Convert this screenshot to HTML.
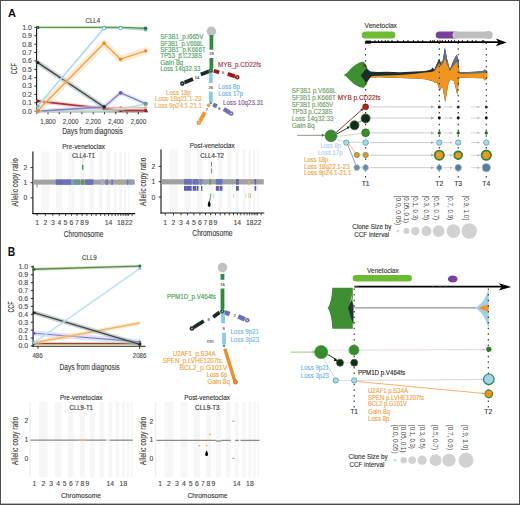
<!DOCTYPE html>
<html><head><meta charset="utf-8"><style>
html,body{margin:0;padding:0;background:#fff;}
svg{display:block;font-family:"Liberation Sans", sans-serif;}
</style></head><body>
<svg width="520" height="505" viewBox="0 0 520 505">
<rect width="520" height="505" fill="#fff"/>
<text x="8.0" y="16.6" font-size="11.4" fill="#111" text-anchor="start" font-weight="bold" textLength="8.0" lengthAdjust="spacingAndGlyphs">A</text>
<line x1="36.6" y1="26.5" x2="36.6" y2="112.2" stroke="#111" stroke-width="1.1"/>
<line x1="36.1" y1="111.8" x2="148.0" y2="111.8" stroke="#111" stroke-width="1.1"/>
<line x1="34.3" y1="111.2" x2="36.6" y2="111.2" stroke="#111" stroke-width="0.9"/>
<text x="31.8" y="113.6" font-size="6.6" fill="#4a4a4a" text-anchor="end" font-weight="normal" stroke="#4a4a4a" stroke-width="0.12" textLength="9.6" lengthAdjust="spacingAndGlyphs">0.0</text>
<line x1="34.3" y1="102.8" x2="36.6" y2="102.8" stroke="#111" stroke-width="0.9"/>
<text x="31.8" y="105.2" font-size="6.6" fill="#4a4a4a" text-anchor="end" font-weight="normal" stroke="#4a4a4a" stroke-width="0.12" textLength="9.6" lengthAdjust="spacingAndGlyphs">0.1</text>
<line x1="34.3" y1="94.4" x2="36.6" y2="94.4" stroke="#111" stroke-width="0.9"/>
<text x="31.8" y="96.8" font-size="6.6" fill="#4a4a4a" text-anchor="end" font-weight="normal" stroke="#4a4a4a" stroke-width="0.12" textLength="9.6" lengthAdjust="spacingAndGlyphs">0.2</text>
<line x1="34.3" y1="86.1" x2="36.6" y2="86.1" stroke="#111" stroke-width="0.9"/>
<text x="31.8" y="88.4" font-size="6.6" fill="#4a4a4a" text-anchor="end" font-weight="normal" stroke="#4a4a4a" stroke-width="0.12" textLength="9.6" lengthAdjust="spacingAndGlyphs">0.3</text>
<line x1="34.3" y1="77.7" x2="36.6" y2="77.7" stroke="#111" stroke-width="0.9"/>
<text x="31.8" y="80.1" font-size="6.6" fill="#4a4a4a" text-anchor="end" font-weight="normal" stroke="#4a4a4a" stroke-width="0.12" textLength="9.6" lengthAdjust="spacingAndGlyphs">0.4</text>
<line x1="34.3" y1="69.3" x2="36.6" y2="69.3" stroke="#111" stroke-width="0.9"/>
<text x="31.8" y="71.7" font-size="6.6" fill="#4a4a4a" text-anchor="end" font-weight="normal" stroke="#4a4a4a" stroke-width="0.12" textLength="9.6" lengthAdjust="spacingAndGlyphs">0.5</text>
<line x1="34.3" y1="60.9" x2="36.6" y2="60.9" stroke="#111" stroke-width="0.9"/>
<text x="31.8" y="63.3" font-size="6.6" fill="#4a4a4a" text-anchor="end" font-weight="normal" stroke="#4a4a4a" stroke-width="0.12" textLength="9.6" lengthAdjust="spacingAndGlyphs">0.6</text>
<line x1="34.3" y1="52.5" x2="36.6" y2="52.5" stroke="#111" stroke-width="0.9"/>
<text x="31.8" y="54.9" font-size="6.6" fill="#4a4a4a" text-anchor="end" font-weight="normal" stroke="#4a4a4a" stroke-width="0.12" textLength="9.6" lengthAdjust="spacingAndGlyphs">0.7</text>
<line x1="34.3" y1="44.2" x2="36.6" y2="44.2" stroke="#111" stroke-width="0.9"/>
<text x="31.8" y="46.5" font-size="6.6" fill="#4a4a4a" text-anchor="end" font-weight="normal" stroke="#4a4a4a" stroke-width="0.12" textLength="9.6" lengthAdjust="spacingAndGlyphs">0.8</text>
<line x1="34.3" y1="35.8" x2="36.6" y2="35.8" stroke="#111" stroke-width="0.9"/>
<text x="31.8" y="38.2" font-size="6.6" fill="#4a4a4a" text-anchor="end" font-weight="normal" stroke="#4a4a4a" stroke-width="0.12" textLength="9.6" lengthAdjust="spacingAndGlyphs">0.9</text>
<line x1="34.3" y1="27.4" x2="36.6" y2="27.4" stroke="#111" stroke-width="0.9"/>
<text x="31.8" y="29.8" font-size="6.6" fill="#4a4a4a" text-anchor="end" font-weight="normal" stroke="#4a4a4a" stroke-width="0.12" textLength="9.6" lengthAdjust="spacingAndGlyphs">1.0</text>
<line x1="36.7" y1="111.8" x2="36.7" y2="114.2" stroke="#111" stroke-width="0.9"/>
<line x1="48.0" y1="111.8" x2="48.0" y2="114.2" stroke="#111" stroke-width="0.9"/>
<line x1="59.3" y1="111.8" x2="59.3" y2="114.2" stroke="#111" stroke-width="0.9"/>
<line x1="70.6" y1="111.8" x2="70.6" y2="114.2" stroke="#111" stroke-width="0.9"/>
<line x1="81.9" y1="111.8" x2="81.9" y2="114.2" stroke="#111" stroke-width="0.9"/>
<line x1="93.2" y1="111.8" x2="93.2" y2="114.2" stroke="#111" stroke-width="0.9"/>
<line x1="104.5" y1="111.8" x2="104.5" y2="114.2" stroke="#111" stroke-width="0.9"/>
<line x1="115.8" y1="111.8" x2="115.8" y2="114.2" stroke="#111" stroke-width="0.9"/>
<line x1="127.1" y1="111.8" x2="127.1" y2="114.2" stroke="#111" stroke-width="0.9"/>
<line x1="138.4" y1="111.8" x2="138.4" y2="114.2" stroke="#111" stroke-width="0.9"/>
<text x="48.0" y="124.0" font-size="6.8" fill="#4a4a4a" text-anchor="middle" font-weight="normal" stroke="#4a4a4a" stroke-width="0.12" textLength="15.5" lengthAdjust="spacingAndGlyphs">1,800</text>
<text x="70.6" y="124.0" font-size="6.8" fill="#4a4a4a" text-anchor="middle" font-weight="normal" stroke="#4a4a4a" stroke-width="0.12" textLength="15.5" lengthAdjust="spacingAndGlyphs">2,000</text>
<text x="93.2" y="124.0" font-size="6.8" fill="#4a4a4a" text-anchor="middle" font-weight="normal" stroke="#4a4a4a" stroke-width="0.12" textLength="15.5" lengthAdjust="spacingAndGlyphs">2,200</text>
<text x="115.8" y="124.0" font-size="6.8" fill="#4a4a4a" text-anchor="middle" font-weight="normal" stroke="#4a4a4a" stroke-width="0.12" textLength="15.5" lengthAdjust="spacingAndGlyphs">2,400</text>
<text x="138.4" y="124.0" font-size="6.8" fill="#4a4a4a" text-anchor="middle" font-weight="normal" stroke="#4a4a4a" stroke-width="0.12" textLength="15.5" lengthAdjust="spacingAndGlyphs">2,600</text>
<text x="14.0" y="71.7" font-size="8.4" fill="#3a3a3a" text-anchor="middle" font-weight="normal" stroke="#3a3a3a" stroke-width="0.12" textLength="11.2" lengthAdjust="spacingAndGlyphs" transform="rotate(-90 14.0 68.7)">CCF</text>
<text x="62.3" y="134.0" font-size="8.8" fill="#3a3a3a" text-anchor="start" font-weight="normal" stroke="#3a3a3a" stroke-width="0.12" textLength="60.5" lengthAdjust="spacingAndGlyphs">Days from diagnosis</text>
<text x="85.6" y="22.9" font-size="6.3" fill="#3a3a3a" text-anchor="start" font-weight="normal" stroke="#3a3a3a" stroke-width="0.12" textLength="14.4" lengthAdjust="spacingAndGlyphs">CLL4</text>
<path d="M37.8,110.8 L104.1,110.8 L120.6,110.4 L145.6,110.4" fill="none" stroke="#e6efd0" stroke-width="2.5" stroke-linejoin="round" stroke-linecap="round" opacity="0.45"/>
<path d="M37.8,110.8 L104.1,110.8 L120.6,110.4 L145.6,110.4" fill="none" stroke="#c9d9a0" stroke-width="0.8" stroke-linejoin="round"/>
<circle cx="37.8" cy="110.8" r="0.01" fill="#c9d9a0" stroke="none" stroke-width="0"/>
<circle cx="104.1" cy="110.8" r="0.01" fill="#c9d9a0" stroke="none" stroke-width="0"/>
<circle cx="120.6" cy="110.4" r="0.01" fill="#c9d9a0" stroke="none" stroke-width="0"/>
<circle cx="145.6" cy="110.4" r="0.01" fill="#c9d9a0" stroke="none" stroke-width="0"/>
<path d="M37.8,101.1 L104.1,108.7 L120.6,110.4 L145.6,110.4" fill="none" stroke="#e0a0a0" stroke-width="4.0" stroke-linejoin="round" stroke-linecap="round" opacity="0.45"/>
<path d="M37.8,101.1 L104.1,108.7 L120.6,110.4 L145.6,110.4" fill="none" stroke="#a83838" stroke-width="1.8" stroke-linejoin="round"/>
<circle cx="37.8" cy="101.1" r="1.60" fill="#8a1f15" stroke="none" stroke-width="0"/>
<circle cx="104.1" cy="108.7" r="1.60" fill="#8a1f15" stroke="none" stroke-width="0"/>
<circle cx="120.6" cy="110.4" r="1.60" fill="#8a1f15" stroke="none" stroke-width="0"/>
<circle cx="145.6" cy="110.4" r="1.60" fill="#8a1f15" stroke="none" stroke-width="0"/>
<path d="M37.8,111.2 L104.1,107.4 L120.6,107.4 L145.6,107.8" fill="none" stroke="#f4d8d8" stroke-width="3.5" stroke-linejoin="round" stroke-linecap="round" opacity="0.45"/>
<path d="M37.8,111.2 L104.1,107.4 L120.6,107.4 L145.6,107.8" fill="none" stroke="#e0b0b0" stroke-width="1.0" stroke-linejoin="round"/>
<circle cx="37.8" cy="111.2" r="1.30" fill="#d8a0a0" stroke="none" stroke-width="0"/>
<circle cx="104.1" cy="107.4" r="1.30" fill="#d8a0a0" stroke="none" stroke-width="0"/>
<circle cx="120.6" cy="107.4" r="1.30" fill="#d8a0a0" stroke="none" stroke-width="0"/>
<circle cx="145.6" cy="107.8" r="1.30" fill="#d8a0a0" stroke="none" stroke-width="0"/>
<path d="M37.8,111.2 L104.1,111.2 L120.6,109.5 L145.6,103.7" fill="none" stroke="#d8eee0" stroke-width="3.0" stroke-linejoin="round" stroke-linecap="round" opacity="0.45"/>
<path d="M37.8,111.2 L104.1,111.2 L120.6,109.5 L145.6,103.7" fill="none" stroke="#b0dcc0" stroke-width="1.0" stroke-linejoin="round"/>
<circle cx="37.8" cy="111.2" r="0.01" fill="#6ab890" stroke="none" stroke-width="0"/>
<circle cx="104.1" cy="111.2" r="0.01" fill="#6ab890" stroke="none" stroke-width="0"/>
<circle cx="120.6" cy="109.5" r="0.01" fill="#6ab890" stroke="none" stroke-width="0"/>
<circle cx="145.6" cy="103.7" r="0.01" fill="#6ab890" stroke="none" stroke-width="0"/>
<path d="M37.8,111.2 L104.1,107.0 L120.6,92.8 L145.6,103.7" fill="none" stroke="#c8caf0" stroke-width="4.5" stroke-linejoin="round" stroke-linecap="round" opacity="0.45"/>
<path d="M37.8,111.2 L104.1,107.0 L120.6,92.8 L145.6,103.7" fill="none" stroke="#8084c8" stroke-width="1.4" stroke-linejoin="round"/>
<circle cx="37.8" cy="111.2" r="1.90" fill="#5a5fb0" stroke="none" stroke-width="0"/>
<circle cx="104.1" cy="107.0" r="1.90" fill="#5a5fb0" stroke="none" stroke-width="0"/>
<circle cx="120.6" cy="92.8" r="1.90" fill="#5a5fb0" stroke="none" stroke-width="0"/>
<circle cx="145.6" cy="103.7" r="1.90" fill="#5a5fb0" stroke="none" stroke-width="0"/>
<circle cx="145.6" cy="103.7" r="2.00" fill="#5aaa88" stroke="none" stroke-width="0"/>
<path d="M37.8,62.6 L104.1,107.0" fill="none" stroke="#9aa3a0" stroke-width="5.0" stroke-linejoin="round" stroke-linecap="round" opacity="0.45"/>
<path d="M37.8,62.6 L104.1,107.0" fill="none" stroke="#3b4744" stroke-width="1.4" stroke-linejoin="round"/>
<circle cx="37.8" cy="62.6" r="1.70" fill="#1e2624" stroke="none" stroke-width="0"/>
<circle cx="104.1" cy="107.0" r="1.70" fill="#1e2624" stroke="none" stroke-width="0"/>
<path d="M37.8,110.4 L104.1,43.3 L120.6,59.2 L145.6,50.9" fill="none" stroke="#f9d2a2" stroke-width="7.0" stroke-linejoin="round" stroke-linecap="round" opacity="0.45"/>
<path d="M37.8,110.4 L104.1,43.3 L120.6,59.2 L145.6,50.9" fill="none" stroke="#f2a448" stroke-width="1.4" stroke-linejoin="round"/>
<circle cx="37.8" cy="110.4" r="1.70" fill="#e08a20" stroke="none" stroke-width="0"/>
<circle cx="104.1" cy="43.3" r="1.70" fill="#e08a20" stroke="none" stroke-width="0"/>
<circle cx="120.6" cy="59.2" r="1.70" fill="#e08a20" stroke="none" stroke-width="0"/>
<circle cx="145.6" cy="50.9" r="1.70" fill="#e08a20" stroke="none" stroke-width="0"/>
<path d="M37.8,106.2 L104.1,28.2 L120.6,28.2 L145.6,29.9" fill="none" stroke="#d0ebf8" stroke-width="2.5" stroke-linejoin="round" stroke-linecap="round" opacity="0.45"/>
<path d="M37.8,106.2 L104.1,28.2 L120.6,28.2 L145.6,29.9" fill="none" stroke="#9fd4f0" stroke-width="1.1" stroke-linejoin="round"/>
<circle cx="37.8" cy="106.2" r="1.70" fill="#64b4dc" stroke="none" stroke-width="0"/>
<circle cx="104.1" cy="28.2" r="1.70" fill="#64b4dc" stroke="none" stroke-width="0"/>
<circle cx="120.6" cy="28.2" r="1.70" fill="#64b4dc" stroke="none" stroke-width="0"/>
<circle cx="145.6" cy="29.9" r="1.70" fill="#64b4dc" stroke="none" stroke-width="0"/>
<path d="M37.8,27.4 L104.1,27.4 L120.6,27.4 L145.6,28.2" fill="none" stroke="#b8d8a8" stroke-width="3.0" stroke-linejoin="round" stroke-linecap="round" opacity="0.45"/>
<path d="M37.8,27.4 L104.1,27.4 L120.6,27.4 L145.6,28.2" fill="none" stroke="#5a9a4a" stroke-width="1.4" stroke-linejoin="round"/>
<circle cx="37.8" cy="27.4" r="1.70" fill="#2e6e2a" stroke="none" stroke-width="0"/>
<circle cx="104.1" cy="27.4" r="1.70" fill="#2e6e2a" stroke="none" stroke-width="0"/>
<circle cx="120.6" cy="27.4" r="1.70" fill="#2e6e2a" stroke="none" stroke-width="0"/>
<circle cx="145.6" cy="28.2" r="1.70" fill="#2e6e2a" stroke="none" stroke-width="0"/>
<circle cx="104.1" cy="28.2" r="1.70" fill="#e8f6fc" stroke="#64b4dc" stroke-width="0.9"/>
<circle cx="120.6" cy="28.2" r="1.70" fill="#e8f6fc" stroke="#64b4dc" stroke-width="0.9"/>
<circle cx="211.4" cy="31.3" r="4.80" fill="#c0c0c0" stroke="none" stroke-width="0"/>
<line x1="211.4" y1="35.0" x2="211.4" y2="49.7" stroke="#2e8b3a" stroke-width="3.8"/>
<text x="211.4" y="55.2" font-size="4.0" fill="#444" text-anchor="middle" font-weight="normal" stroke="#444" stroke-width="0.12">29</text>
<line x1="211.4" y1="58.0" x2="211.4" y2="68.7" stroke="#2e8b3a" stroke-width="3.8"/>
<line x1="209.2" y1="71.2" x2="200.8" y2="74.6" stroke="#1c2b28" stroke-width="3.8"/>
<text x="197.0" y="78.8" font-size="4.0" fill="#444" text-anchor="middle" font-weight="normal" stroke="#444" stroke-width="0.12">14</text>
<line x1="193.0" y1="79.0" x2="184.5" y2="82.6" stroke="#1c2b28" stroke-width="3.8"/>
<circle cx="182.3" cy="83.6" r="2.30" fill="#1c2b28" stroke="none" stroke-width="0"/>
<circle cx="182.3" cy="83.6" r="0.70" fill="#e8e8e8" stroke="none" stroke-width="0"/>
<line x1="213.8" y1="70.8" x2="219.2" y2="72.4" stroke="#a01818" stroke-width="3.8"/>
<text x="223.0" y="74.4" font-size="4.0" fill="#444" text-anchor="middle" font-weight="normal" stroke="#444" stroke-width="0.12">5</text>
<line x1="227.7" y1="73.9" x2="235.0" y2="76.4" stroke="#a01818" stroke-width="3.8"/>
<circle cx="237.2" cy="77.2" r="2.30" fill="#a01818" stroke="none" stroke-width="0"/>
<circle cx="237.2" cy="77.2" r="0.70" fill="#e8e8e8" stroke="none" stroke-width="0"/>
<line x1="210.8" y1="72.5" x2="210.8" y2="83.0" stroke="#8cc8ec" stroke-width="3.8"/>
<text x="210.8" y="88.8" font-size="4.0" fill="#444" text-anchor="middle" font-weight="normal" stroke="#444" stroke-width="0.12">26</text>
<line x1="210.8" y1="91.5" x2="210.8" y2="102.3" stroke="#8cc8ec" stroke-width="3.8"/>
<circle cx="210.8" cy="103.0" r="1.30" fill="#4a90c0" stroke="none" stroke-width="0"/>
<line x1="209.5" y1="104.2" x2="207.6" y2="106.6" stroke="#f0962a" stroke-width="3.1999999999999997"/>
<text x="206.8" y="111.4" font-size="4.0" fill="#444" text-anchor="middle" font-weight="normal" stroke="#444" stroke-width="0.12">7</text>
<line x1="205.0" y1="112.3" x2="200.0" y2="121.0" stroke="#f0962a" stroke-width="3.8"/>
<circle cx="198.9" cy="122.8" r="2.30" fill="#f0962a" stroke="none" stroke-width="0"/>
<circle cx="198.9" cy="122.8" r="0.70" fill="#e8e8e8" stroke="none" stroke-width="0"/>
<line x1="213.0" y1="104.6" x2="217.0" y2="106.2" stroke="#6f6fb8" stroke-width="4.2"/>
<text x="219.4" y="109.9" font-size="4.0" fill="#444" text-anchor="middle" font-weight="normal" stroke="#444" stroke-width="0.12">6</text>
<line x1="223.8" y1="109.0" x2="229.6" y2="112.6" stroke="#6f6fb8" stroke-width="4.4"/>
<circle cx="231.2" cy="113.5" r="2.30" fill="#6f6fb8" stroke="none" stroke-width="0"/>
<circle cx="231.2" cy="113.5" r="0.70" fill="#e8e8e8" stroke="none" stroke-width="0"/>
<circle cx="210.8" cy="70.6" r="2.00" fill="#2a4a30" stroke="#2e8b3a" stroke-width="0.9"/>
<circle cx="210.8" cy="70.6" r="0.60" fill="#cfe8cf" stroke="none" stroke-width="0"/>
<text x="160.2" y="39.1" font-size="6.6" fill="#48a25a" text-anchor="start" font-weight="normal" stroke="#48a25a" stroke-width="0.12" textLength="43.1" lengthAdjust="spacingAndGlyphs">SF3B1_p.I665V</text>
<text x="160.2" y="45.5" font-size="6.6" fill="#48a25a" text-anchor="start" font-weight="normal" stroke="#48a25a" stroke-width="0.12" textLength="43.1" lengthAdjust="spacingAndGlyphs">SF3B1_p.V668L</text>
<text x="160.2" y="51.8" font-size="6.6" fill="#48a25a" text-anchor="start" font-weight="normal" stroke="#48a25a" stroke-width="0.12" textLength="45.5" lengthAdjust="spacingAndGlyphs">SF3B1_p.K666T</text>
<text x="160.2" y="58.2" font-size="6.6" fill="#48a25a" text-anchor="start" font-weight="normal" stroke="#48a25a" stroke-width="0.12" textLength="41.9" lengthAdjust="spacingAndGlyphs">TP53_p.C238S</text>
<text x="160.2" y="64.5" font-size="6.6" fill="#48a25a" text-anchor="start" font-weight="normal" stroke="#48a25a" stroke-width="0.12" textLength="23.1" lengthAdjust="spacingAndGlyphs">Gain 8q</text>
<text x="160.2" y="70.7" font-size="6.6" fill="#48a25a" text-anchor="start" font-weight="normal" stroke="#48a25a" stroke-width="0.12" textLength="40.2" lengthAdjust="spacingAndGlyphs">Loss 14q32.33</text>
<text x="218.1" y="67.4" font-size="6.6" fill="#a03040" text-anchor="start" font-weight="normal" stroke="#a03040" stroke-width="0.12" textLength="43.1" lengthAdjust="spacingAndGlyphs">MYB_p.CD22fs</text>
<text x="218.3" y="89.1" font-size="6.6" fill="#5eb2e8" text-anchor="start" font-weight="normal" stroke="#5eb2e8" stroke-width="0.12" textLength="21.7" lengthAdjust="spacingAndGlyphs">Loss 8p</text>
<text x="218.3" y="95.7" font-size="6.6" fill="#5eb2e8" text-anchor="start" font-weight="normal" stroke="#5eb2e8" stroke-width="0.12" textLength="24.9" lengthAdjust="spacingAndGlyphs">Loss 17p</text>
<text x="223.0" y="105.1" font-size="6.6" fill="#7a5a90" text-anchor="start" font-weight="normal" stroke="#7a5a90" stroke-width="0.12" textLength="40.5" lengthAdjust="spacingAndGlyphs">Loss 10q23.31</text>
<text x="178.5" y="95.1" font-size="6.6" fill="#f0a850" text-anchor="middle" font-weight="normal" stroke="#f0a850" stroke-width="0.12" textLength="25.0" lengthAdjust="spacingAndGlyphs">Loss 18p</text>
<text x="178.3" y="101.4" font-size="6.6" fill="#f0a850" text-anchor="middle" font-weight="normal" stroke="#f0a850" stroke-width="0.12" textLength="46.6" lengthAdjust="spacingAndGlyphs">Loss 18q21.1-23</text>
<text x="178.3" y="107.6" font-size="6.6" fill="#f0a850" text-anchor="middle" font-weight="normal" stroke="#f0a850" stroke-width="0.12" textLength="47.5" lengthAdjust="spacingAndGlyphs">Loss 9p24.1-21.1</text>
<text x="364.6" y="28.3" font-size="7.0" fill="#333" text-anchor="start" font-weight="normal" stroke="#333" stroke-width="0.12" textLength="32.3" lengthAdjust="spacingAndGlyphs">Venetoclax</text>
<rect x="361.70" y="31.50" width="33.70" height="7.00" fill="#6cbb34" rx="3.5"/>
<rect x="435.70" y="31.40" width="24.00" height="7.20" fill="#7a3e9e" rx="3.6"/>
<rect x="452.80" y="31.40" width="39.80" height="7.20" fill="#bebebe" rx="3.6" stroke="#e6e6e6" stroke-width="0.6"/>
<circle cx="488.6" cy="35.0" r="3.90" fill="#bebebe" stroke="none" stroke-width="0"/>
<line x1="365.4" y1="42.2" x2="500.0" y2="42.2" stroke="#000" stroke-width="1.7"/>
<rect x="365.40" y="40.60" width="5.60" height="3.00" fill="#000"/>
<polygon points="495.8,38.6 506.6,42.4 495.8,46.2 498.8,42.3" fill="#000"/>
<line x1="375.0" y1="40.0" x2="375.0" y2="42.2" stroke="#000" stroke-width="0.8"/>
<line x1="378.4" y1="40.0" x2="378.4" y2="42.2" stroke="#000" stroke-width="0.8"/>
<line x1="381.9" y1="40.0" x2="381.9" y2="42.2" stroke="#000" stroke-width="0.8"/>
<line x1="385.3" y1="40.0" x2="385.3" y2="42.2" stroke="#000" stroke-width="0.8"/>
<line x1="388.0" y1="40.0" x2="388.0" y2="42.2" stroke="#000" stroke-width="0.8"/>
<line x1="392.0" y1="40.0" x2="392.0" y2="42.2" stroke="#000" stroke-width="0.8"/>
<line x1="397.8" y1="40.0" x2="397.8" y2="42.2" stroke="#000" stroke-width="0.8"/>
<line x1="403.5" y1="40.0" x2="403.5" y2="42.2" stroke="#000" stroke-width="0.8"/>
<line x1="408.0" y1="40.0" x2="408.0" y2="42.2" stroke="#000" stroke-width="0.8"/>
<line x1="413.5" y1="40.0" x2="413.5" y2="42.2" stroke="#000" stroke-width="0.8"/>
<line x1="418.0" y1="40.0" x2="418.0" y2="42.2" stroke="#000" stroke-width="0.8"/>
<line x1="422.7" y1="40.0" x2="422.7" y2="42.2" stroke="#000" stroke-width="0.8"/>
<line x1="430.4" y1="40.0" x2="430.4" y2="42.2" stroke="#000" stroke-width="0.8"/>
<line x1="432.7" y1="40.0" x2="432.7" y2="42.2" stroke="#000" stroke-width="0.8"/>
<line x1="434.3" y1="40.0" x2="434.3" y2="42.2" stroke="#000" stroke-width="0.8"/>
<line x1="437.7" y1="40.0" x2="437.7" y2="42.2" stroke="#000" stroke-width="0.8"/>
<line x1="440.0" y1="40.0" x2="440.0" y2="42.2" stroke="#000" stroke-width="0.8"/>
<line x1="442.3" y1="40.0" x2="442.3" y2="42.2" stroke="#000" stroke-width="0.8"/>
<line x1="445.4" y1="40.0" x2="445.4" y2="42.2" stroke="#000" stroke-width="0.8"/>
<line x1="448.5" y1="40.0" x2="448.5" y2="42.2" stroke="#000" stroke-width="0.8"/>
<line x1="451.5" y1="40.0" x2="451.5" y2="42.2" stroke="#000" stroke-width="0.8"/>
<line x1="454.6" y1="40.0" x2="454.6" y2="42.2" stroke="#000" stroke-width="0.8"/>
<line x1="458.5" y1="40.0" x2="458.5" y2="42.2" stroke="#000" stroke-width="0.8"/>
<line x1="462.3" y1="40.0" x2="462.3" y2="42.2" stroke="#000" stroke-width="0.8"/>
<line x1="467.7" y1="40.0" x2="467.7" y2="42.2" stroke="#000" stroke-width="0.8"/>
<line x1="472.3" y1="40.0" x2="472.3" y2="42.2" stroke="#000" stroke-width="0.8"/>
<line x1="476.0" y1="40.0" x2="476.0" y2="42.2" stroke="#000" stroke-width="0.8"/>
<line x1="482.3" y1="40.0" x2="482.3" y2="42.2" stroke="#000" stroke-width="0.8"/>
<line x1="483.8" y1="40.0" x2="483.8" y2="42.2" stroke="#000" stroke-width="0.8"/>
<path d="M343.5,74.9 C349,73 352,63.5 363.4,61.4 L366,64.5 L367.7,68.8 L370.3,71.4 L370.3,77.5 L368.5,80.1 L366,85.3 L363.4,88.0 C352,86 349,77 343.5,74.9 Z" fill="#3e8e32" stroke="none" stroke-width="0"/>
<path d="M360.8,75.4 L366.0,68.8 L370.3,71.4 L378.0,72.0 L386.7,71.8 L400.0,72.3 L415.0,71.6 L425.0,70.9 L431.1,69.6 L432.4,67.6 L434.5,69.5 L437.1,63.5 L439.1,58.8 L440.5,62.2 L442.5,61.5 L444.9,47.4 L447.2,59.5 L449.9,69.6 L453.3,60.8 L456.6,54.8 L458.4,59.5 L459.3,72.0 L461.3,72.3 L475.0,71.8 L482.9,70.9 L484.9,69.6 L487.2,70.9 L487.2,78.3 L484.9,80.4 L482.9,78.3 L461.3,77.7 L459.3,78.3 L457.3,94.5 L453.9,81.0 L450.6,79.7 L448.6,82.4 L445.2,101.9 L442.5,86.4 L439.8,90.5 L437.1,82.4 L434.4,82.4 L432.4,81.0 L425.0,79.2 L415.0,78.6 L400.0,78.0 L380.0,77.3 L370.3,77.5 L366.0,82.7 Z" fill="#1f2d2a" stroke="none" stroke-width="0"/>
<path d="M434.5,69.5 L437.1,63.5 L439.1,58.8 L440.5,62.2 L442.5,61.5 L444.9,47.4 L447.2,59.5 L449.9,69.6 L453.3,60.8 L456.6,54.8 L458.4,59.5 L459.3,72.0 L461.3,72.3 L475.0,71.8 L482.9,70.9 L484.9,69.6 L487.2,70.9 L487.2,73.2 L484.9,72.2 L482.9,73.0 L461.3,73.8 L459.3,73.6 L458.4,66.0 L456.6,61.5 L453.3,66.0 L449.9,71.0 L447.2,64.0 L444.9,58.5 L442.5,64.0 L440.5,66.0 L439.1,63.0 L437.1,67.0 L434.5,71.0 Z" fill="#676d95" stroke="none" stroke-width="0"/>
<path d="M434.5,69.5 L437.1,63.5 L439.1,58.8 L440.5,62.2 L441.0,66.0 L439.1,63.0 L437.1,67.0 L434.5,71.0 Z" fill="#3a4a40" stroke="none" stroke-width="0"/>
<path d="M372.0,75.9 L386.7,75.6 L400.0,74.9 L415.0,73.8 L425.0,72.6 L431.1,72.0 L434.5,71.0 L437.1,67.0 L439.1,63.0 L440.5,66.0 L442.5,64.0 L444.9,58.5 L447.2,64.0 L449.9,71.0 L453.3,66.0 L456.6,61.5 L458.4,66.0 L459.3,73.6 L461.3,73.8 L482.9,73.0 L484.9,72.2 L487.2,73.2 L487.2,73.2 L487.2,78.3 L484.9,80.4 L482.9,78.3 L461.3,77.7 L459.3,78.3 L457.3,94.5 L453.9,81.0 L450.6,79.7 L448.6,82.4 L445.2,101.9 L442.5,86.4 L439.8,90.5 L437.1,82.4 L434.4,82.4 L432.4,81.0 L425.0,79.2 L415.0,78.6 L400.0,78.0 L380.0,77.3 L370.3,77.5 Z" fill="#f0951e" stroke="none" stroke-width="0"/>
<path d="M362.5,66 L365,63.5 L366.5,67 Z" fill="#8a2a1a" stroke="none" stroke-width="0"/>
<line x1="365.6" y1="42.5" x2="365.6" y2="178.5" stroke="#2a2a2a" stroke-width="1.1" stroke-dasharray="1.5 4.3"/>
<line x1="439.3" y1="42.5" x2="439.3" y2="178.5" stroke="#2a2a2a" stroke-width="1.1" stroke-dasharray="1.5 4.3"/>
<line x1="458.2" y1="42.5" x2="458.2" y2="178.5" stroke="#2a2a2a" stroke-width="1.1" stroke-dasharray="1.5 4.3"/>
<line x1="486.3" y1="42.5" x2="486.3" y2="178.5" stroke="#2a2a2a" stroke-width="1.1" stroke-dasharray="1.5 4.3"/>
<text x="365.6" y="186.0" font-size="6.8" fill="#333" text-anchor="middle" font-weight="normal" stroke="#333" stroke-width="0.12">T1</text>
<text x="439.3" y="186.0" font-size="6.8" fill="#333" text-anchor="middle" font-weight="normal" stroke="#333" stroke-width="0.12">T2</text>
<text x="458.2" y="186.0" font-size="6.8" fill="#333" text-anchor="middle" font-weight="normal" stroke="#333" stroke-width="0.12">T3</text>
<text x="486.3" y="186.0" font-size="6.8" fill="#333" text-anchor="middle" font-weight="normal" stroke="#333" stroke-width="0.12">T4</text>
<line x1="370.0" y1="106.9" x2="432.5" y2="106.9" stroke="#bdbdbd" stroke-width="0.8"/>
<polygon points="431.0,105.5 434.5,106.9 431.0,108.3" fill="#aaa"/>
<line x1="443.5" y1="106.9" x2="451.0" y2="106.9" stroke="#ccc" stroke-width="0.8"/>
<polygon points="450.0,105.7 453.0,106.9 450.0,108.1" fill="#bbb"/>
<line x1="471.0" y1="106.9" x2="478.5" y2="106.9" stroke="#ccc" stroke-width="0.8"/>
<polygon points="477.5,105.7 480.5,106.9 477.5,108.1" fill="#bbb"/>
<line x1="370.0" y1="118.0" x2="432.5" y2="118.0" stroke="#bdbdbd" stroke-width="0.8"/>
<polygon points="431.0,116.6 434.5,118.0 431.0,119.4" fill="#aaa"/>
<line x1="443.5" y1="118.0" x2="451.0" y2="118.0" stroke="#ccc" stroke-width="0.8"/>
<polygon points="450.0,116.8 453.0,118.0 450.0,119.2" fill="#bbb"/>
<line x1="471.0" y1="118.0" x2="478.5" y2="118.0" stroke="#ccc" stroke-width="0.8"/>
<polygon points="477.5,116.8 480.5,118.0 477.5,119.2" fill="#bbb"/>
<line x1="370.0" y1="132.9" x2="432.5" y2="132.9" stroke="#bdbdbd" stroke-width="0.8"/>
<polygon points="431.0,131.5 434.5,132.9 431.0,134.3" fill="#aaa"/>
<line x1="443.5" y1="132.9" x2="451.0" y2="132.9" stroke="#ccc" stroke-width="0.8"/>
<polygon points="450.0,131.7 453.0,132.9 450.0,134.1" fill="#bbb"/>
<line x1="471.0" y1="132.9" x2="478.5" y2="132.9" stroke="#ccc" stroke-width="0.8"/>
<polygon points="477.5,131.7 480.5,132.9 477.5,134.1" fill="#bbb"/>
<line x1="370.0" y1="142.6" x2="432.5" y2="142.6" stroke="#bdbdbd" stroke-width="0.8"/>
<polygon points="431.0,141.2 434.5,142.6 431.0,144.0" fill="#aaa"/>
<line x1="443.5" y1="142.6" x2="451.0" y2="142.6" stroke="#ccc" stroke-width="0.8"/>
<polygon points="450.0,141.4 453.0,142.6 450.0,143.8" fill="#bbb"/>
<line x1="471.0" y1="142.6" x2="478.5" y2="142.6" stroke="#ccc" stroke-width="0.8"/>
<polygon points="477.5,141.4 480.5,142.6 477.5,143.8" fill="#bbb"/>
<line x1="370.0" y1="155.2" x2="432.5" y2="155.2" stroke="#bdbdbd" stroke-width="0.8"/>
<polygon points="431.0,153.8 434.5,155.2 431.0,156.6" fill="#aaa"/>
<line x1="443.5" y1="155.2" x2="451.0" y2="155.2" stroke="#ccc" stroke-width="0.8"/>
<polygon points="450.0,154.0 453.0,155.2 450.0,156.4" fill="#bbb"/>
<line x1="471.0" y1="155.2" x2="478.5" y2="155.2" stroke="#ccc" stroke-width="0.8"/>
<polygon points="477.5,154.0 480.5,155.2 477.5,156.4" fill="#bbb"/>
<line x1="370.0" y1="167.7" x2="432.5" y2="167.7" stroke="#bdbdbd" stroke-width="0.8"/>
<polygon points="431.0,166.3 434.5,167.7 431.0,169.1" fill="#aaa"/>
<line x1="443.5" y1="167.7" x2="451.0" y2="167.7" stroke="#ccc" stroke-width="0.8"/>
<polygon points="450.0,166.5 453.0,167.7 450.0,168.9" fill="#bbb"/>
<line x1="471.0" y1="167.7" x2="478.5" y2="167.7" stroke="#ccc" stroke-width="0.8"/>
<polygon points="477.5,166.5 480.5,167.7 477.5,168.9" fill="#bbb"/>
<line x1="297.1" y1="135.3" x2="323.5" y2="135.3" stroke="#7a8a78" stroke-width="0.9"/>
<polygon points="321.8,133.8 325.3,135.3 321.8,136.8" fill="#5a6a58"/>
<line x1="336.0" y1="132.6" x2="362.5" y2="109.2" stroke="#8a1f15" stroke-width="0.9"/>
<polygon points="360.2,109.1 363.5,108.2 362.2,111.3" fill="#8a1f15"/>
<line x1="336.8" y1="134.0" x2="348.5" y2="127.5" stroke="#1e2624" stroke-width="0.9"/>
<polygon points="346.5,126.6 350.0,126.6 348.0,129.2" fill="#1e2624"/>
<line x1="358.0" y1="122.5" x2="362.0" y2="120.5" stroke="#1e2624" stroke-width="0.6"/>
<line x1="337.0" y1="136.5" x2="361.5" y2="133.4" stroke="#bbb" stroke-width="0.7"/>
<line x1="335.0" y1="139.5" x2="344.5" y2="141.5" stroke="#aac8e0" stroke-width="0.7"/>
<line x1="348.5" y1="143.5" x2="355.5" y2="153.0" stroke="#f0a040" stroke-width="0.7"/>
<line x1="347.5" y1="144.2" x2="355.7" y2="164.5" stroke="#6a5ab8" stroke-width="0.7"/>
<line x1="349.0" y1="142.3" x2="362.5" y2="142.3" stroke="#bbb" stroke-width="0.7"/>
<line x1="360.0" y1="154.8" x2="362.5" y2="155.0" stroke="#bbb" stroke-width="0.6"/>
<line x1="359.5" y1="167.1" x2="362.5" y2="167.0" stroke="#bbb" stroke-width="0.6"/>
<circle cx="331.0" cy="135.8" r="5.90" fill="#3a8d2e" stroke="#2a6e22" stroke-width="0.6"/>
<circle cx="354.5" cy="125.3" r="4.50" fill="#152a18" stroke="#2e6a2a" stroke-width="0.8"/>
<circle cx="346.3" cy="142.6" r="2.70" fill="#a8d8ea" stroke="#5a9aa0" stroke-width="0.8"/>
<circle cx="356.8" cy="155.0" r="2.60" fill="#e89030" stroke="#7aa860" stroke-width="1.0"/>
<circle cx="356.8" cy="167.6" r="2.90" fill="#6a8aaa" stroke="#9abcd4" stroke-width="0.8"/>
<circle cx="365.6" cy="106.8" r="3.00" fill="#a82a18" stroke="#701010" stroke-width="0.6"/>
<circle cx="365.6" cy="118.4" r="4.50" fill="#152a18" stroke="#2e6a2a" stroke-width="0.8"/>
<circle cx="365.6" cy="132.8" r="4.00" fill="#3a8d2e" stroke="#2a6e22" stroke-width="0.6"/>
<circle cx="365.6" cy="142.6" r="2.80" fill="#a8d8ea" stroke="#5a9aa0" stroke-width="0.8"/>
<circle cx="365.6" cy="155.0" r="2.70" fill="#e89030" stroke="#7aa860" stroke-width="1.0"/>
<circle cx="365.6" cy="167.6" r="2.90" fill="#6a8aaa" stroke="#9abcd4" stroke-width="0.8"/>
<circle cx="439.3" cy="106.9" r="1.50" fill="#5a1a10" stroke="none" stroke-width="0"/>
<circle cx="439.3" cy="117.8" r="1.50" fill="#111" stroke="none" stroke-width="0"/>
<circle cx="439.3" cy="132.9" r="1.60" fill="#2a5a20" stroke="none" stroke-width="0"/>
<circle cx="439.3" cy="142.6" r="2.70" fill="#a8d8ea" stroke="#5a9aa0" stroke-width="0.8"/>
<circle cx="439.3" cy="155.2" r="4.60" fill="#f0951e" stroke="#2e8a3a" stroke-width="1.8"/>
<circle cx="439.3" cy="167.7" r="2.60" fill="#5a7a9a" stroke="#a0c0d8" stroke-width="0.8"/>
<circle cx="458.2" cy="106.9" r="1.50" fill="#5a1a10" stroke="none" stroke-width="0"/>
<circle cx="458.2" cy="117.8" r="1.50" fill="#111" stroke="none" stroke-width="0"/>
<circle cx="458.2" cy="132.9" r="1.60" fill="#2a5a20" stroke="none" stroke-width="0"/>
<circle cx="458.2" cy="142.6" r="2.70" fill="#a8d8ea" stroke="#5a9aa0" stroke-width="0.8"/>
<circle cx="458.2" cy="155.2" r="3.90" fill="#f0951e" stroke="#2e8a3a" stroke-width="1.8"/>
<circle cx="458.2" cy="167.7" r="3.30" fill="#5a7a9a" stroke="#a0c0d8" stroke-width="0.8"/>
<circle cx="486.3" cy="106.9" r="1.50" fill="#5a1a10" stroke="none" stroke-width="0"/>
<circle cx="486.3" cy="117.8" r="1.50" fill="#111" stroke="none" stroke-width="0"/>
<circle cx="486.3" cy="132.9" r="1.60" fill="#2a5a20" stroke="none" stroke-width="0"/>
<circle cx="486.3" cy="142.6" r="2.70" fill="#a8d8ea" stroke="#5a9aa0" stroke-width="0.8"/>
<circle cx="486.3" cy="155.2" r="4.70" fill="#f0951e" stroke="#2e8a3a" stroke-width="1.8"/>
<circle cx="486.3" cy="167.7" r="4.10" fill="#5a7a9a" stroke="#a0c0d8" stroke-width="0.8"/>
<text x="291.7" y="92.7" font-size="6.5" fill="#6a9a60" text-anchor="start" font-weight="normal" stroke="#6a9a60" stroke-width="0.12" textLength="44.5" lengthAdjust="spacingAndGlyphs">SF3B1 p.V668L</text>
<text x="291.7" y="100.3" font-size="6.5" fill="#6a9a60" text-anchor="start" font-weight="normal" stroke="#6a9a60" stroke-width="0.12" textLength="44.0" lengthAdjust="spacingAndGlyphs">SF3B1 p.K666T</text>
<text x="291.7" y="106.7" font-size="6.5" fill="#6a9a60" text-anchor="start" font-weight="normal" stroke="#6a9a60" stroke-width="0.12" textLength="41.5" lengthAdjust="spacingAndGlyphs">SF3B1 p.I665V</text>
<text x="291.7" y="113.5" font-size="6.5" fill="#6a9a60" text-anchor="start" font-weight="normal" stroke="#6a9a60" stroke-width="0.12" textLength="41.0" lengthAdjust="spacingAndGlyphs">TP53 p.C238S</text>
<text x="291.7" y="120.6" font-size="6.5" fill="#6a9a60" text-anchor="start" font-weight="normal" stroke="#6a9a60" stroke-width="0.12" textLength="42.0" lengthAdjust="spacingAndGlyphs">Loss 14q32.33</text>
<text x="291.7" y="127.5" font-size="6.5" fill="#6a9a60" text-anchor="start" font-weight="normal" stroke="#6a9a60" stroke-width="0.12" textLength="23.0" lengthAdjust="spacingAndGlyphs">Gain 8q</text>
<text x="337.7" y="100.3" font-size="6.5" fill="#a02020" text-anchor="start" font-weight="normal" stroke="#a02020" stroke-width="0.12" textLength="42.8" lengthAdjust="spacingAndGlyphs">MYB p.CD22fs</text>
<text x="341.0" y="148.2" font-size="6.6" fill="#aacfee" text-anchor="end" font-weight="normal" stroke="#aacfee" stroke-width="0.12" textLength="20.6" lengthAdjust="spacingAndGlyphs">Loss 8p</text>
<text x="342.5" y="155.2" font-size="6.6" fill="#aacfee" text-anchor="end" font-weight="normal" stroke="#aacfee" stroke-width="0.12" textLength="24.5" lengthAdjust="spacingAndGlyphs">Loss 17p</text>
<text x="304.0" y="161.5" font-size="6.5" fill="#f0a23c" text-anchor="start" font-weight="normal" stroke="#f0a23c" stroke-width="0.12" textLength="24.0" lengthAdjust="spacingAndGlyphs">Loss 18p</text>
<text x="304.0" y="168.5" font-size="6.5" fill="#f0a23c" text-anchor="start" font-weight="normal" stroke="#f0a23c" stroke-width="0.12" textLength="45.6" lengthAdjust="spacingAndGlyphs">Loss 18q22.1-23</text>
<text x="304.0" y="175.0" font-size="6.5" fill="#f0a23c" text-anchor="start" font-weight="normal" stroke="#f0a23c" stroke-width="0.12" textLength="47.5" lengthAdjust="spacingAndGlyphs">Loss 9p24.1-21.1</text>
<circle cx="397.9" cy="231.1" r="1.40" fill="#d2d0d0" stroke="none" stroke-width="0"/>
<text x="0" y="0" font-size="6.6" fill="#444" textLength="29.6" lengthAdjust="spacingAndGlyphs" transform="translate(395.6 195.6) rotate(90)">[0.0, 0.05)</text>
<circle cx="406.5" cy="231.1" r="3.00" fill="#d2d0d0" stroke="none" stroke-width="0"/>
<text x="0" y="0" font-size="6.6" fill="#444" textLength="27.5" lengthAdjust="spacingAndGlyphs" transform="translate(403.8 195.6) rotate(90)">[0.05, 0.1)</text>
<circle cx="415.3" cy="231.1" r="4.10" fill="#d2d0d0" stroke="none" stroke-width="0"/>
<text x="0" y="0" font-size="6.6" fill="#444" textLength="24.6" lengthAdjust="spacingAndGlyphs" transform="translate(413.0 195.6) rotate(90)">[0.1, 0.3)</text>
<circle cx="426.5" cy="231.1" r="5.00" fill="#d2d0d0" stroke="none" stroke-width="0"/>
<text x="0" y="0" font-size="6.6" fill="#444" textLength="24.6" lengthAdjust="spacingAndGlyphs" transform="translate(423.8 195.6) rotate(90)">[0.3, 0.5)</text>
<circle cx="438.6" cy="231.1" r="5.90" fill="#d2d0d0" stroke="none" stroke-width="0"/>
<text x="0" y="0" font-size="6.6" fill="#444" textLength="24.6" lengthAdjust="spacingAndGlyphs" transform="translate(434.2 195.6) rotate(90)">[0.5, 0.7)</text>
<circle cx="453.4" cy="231.1" r="6.80" fill="#d2d0d0" stroke="none" stroke-width="0"/>
<text x="0" y="0" font-size="6.6" fill="#444" textLength="24.6" lengthAdjust="spacingAndGlyphs" transform="translate(448.2 195.6) rotate(90)">[0.7, 0.9)</text>
<circle cx="469.2" cy="231.1" r="7.80" fill="#d2d0d0" stroke="none" stroke-width="0"/>
<text x="0" y="0" font-size="6.6" fill="#444" textLength="24.3" lengthAdjust="spacingAndGlyphs" transform="translate(464.3 195.6) rotate(90)">[0.9, 1.0]</text>
<text x="352.3" y="228.9" font-size="6.8" fill="#333" text-anchor="start" font-weight="normal" stroke="#333" stroke-width="0.12" textLength="39.2" lengthAdjust="spacingAndGlyphs">Clone Size by</text>
<text x="354.2" y="236.6" font-size="6.8" fill="#333" text-anchor="start" font-weight="normal" stroke="#333" stroke-width="0.12" textLength="35.0" lengthAdjust="spacingAndGlyphs">CCF interval</text>
<rect x="41.28" y="151.60" width="8.16" height="62.00" fill="#f6f6f6"/>
<rect x="56.08" y="151.60" width="6.41" height="62.00" fill="#f6f6f6"/>
<rect x="68.56" y="151.60" width="5.74" height="62.00" fill="#f6f6f6"/>
<rect x="79.64" y="151.60" width="4.90" height="62.00" fill="#f6f6f6"/>
<rect x="89.27" y="151.60" width="4.56" height="62.00" fill="#f6f6f6"/>
<rect x="98.36" y="151.60" width="4.50" height="62.00" fill="#f6f6f6"/>
<rect x="106.72" y="151.60" width="3.59" height="62.00" fill="#f6f6f6"/>
<rect x="113.77" y="151.60" width="3.02" height="62.00" fill="#f6f6f6"/>
<rect x="119.50" y="151.60" width="2.62" height="62.00" fill="#f6f6f6"/>
<rect x="124.10" y="151.60" width="2.11" height="62.00" fill="#f6f6f6"/>
<rect x="127.83" y="151.60" width="1.71" height="62.00" fill="#f6f6f6"/>
<line x1="32.9" y1="151.6" x2="32.9" y2="214.1" stroke="#111" stroke-width="1.1"/>
<line x1="32.4" y1="213.6" x2="135.2" y2="213.6" stroke="#111" stroke-width="1.1"/>
<line x1="37.1" y1="213.6" x2="37.1" y2="215.9" stroke="#111" stroke-width="0.8"/>
<line x1="45.4" y1="213.6" x2="45.4" y2="215.9" stroke="#111" stroke-width="0.8"/>
<line x1="52.8" y1="213.6" x2="52.8" y2="215.9" stroke="#111" stroke-width="0.8"/>
<line x1="59.3" y1="213.6" x2="59.3" y2="215.9" stroke="#111" stroke-width="0.8"/>
<line x1="65.5" y1="213.6" x2="65.5" y2="215.9" stroke="#111" stroke-width="0.8"/>
<line x1="71.4" y1="213.6" x2="71.4" y2="215.9" stroke="#111" stroke-width="0.8"/>
<line x1="77.0" y1="213.6" x2="77.0" y2="215.9" stroke="#111" stroke-width="0.8"/>
<line x1="82.1" y1="213.6" x2="82.1" y2="215.9" stroke="#111" stroke-width="0.8"/>
<line x1="86.9" y1="213.6" x2="86.9" y2="215.9" stroke="#111" stroke-width="0.8"/>
<line x1="91.5" y1="213.6" x2="91.5" y2="215.9" stroke="#111" stroke-width="0.8"/>
<line x1="96.1" y1="213.6" x2="96.1" y2="215.9" stroke="#111" stroke-width="0.8"/>
<line x1="100.6" y1="213.6" x2="100.6" y2="215.9" stroke="#111" stroke-width="0.8"/>
<line x1="104.8" y1="213.6" x2="104.8" y2="215.9" stroke="#111" stroke-width="0.8"/>
<line x1="108.5" y1="213.6" x2="108.5" y2="215.9" stroke="#111" stroke-width="0.8"/>
<line x1="112.0" y1="213.6" x2="112.0" y2="215.9" stroke="#111" stroke-width="0.8"/>
<line x1="115.3" y1="213.6" x2="115.3" y2="215.9" stroke="#111" stroke-width="0.8"/>
<line x1="118.1" y1="213.6" x2="118.1" y2="215.9" stroke="#111" stroke-width="0.8"/>
<line x1="120.8" y1="213.6" x2="120.8" y2="215.9" stroke="#111" stroke-width="0.8"/>
<line x1="123.1" y1="213.6" x2="123.1" y2="215.9" stroke="#111" stroke-width="0.8"/>
<line x1="125.2" y1="213.6" x2="125.2" y2="215.9" stroke="#111" stroke-width="0.8"/>
<line x1="127.0" y1="213.6" x2="127.0" y2="215.9" stroke="#111" stroke-width="0.8"/>
<line x1="128.7" y1="213.6" x2="128.7" y2="215.9" stroke="#111" stroke-width="0.8"/>
<line x1="132.1" y1="213.6" x2="132.1" y2="215.9" stroke="#111" stroke-width="0.8"/>
<text x="37.1" y="224.8" font-size="6.8" fill="#4a4a4a" text-anchor="middle" font-weight="normal" stroke="#4a4a4a" stroke-width="0.12">1</text>
<text x="45.4" y="224.8" font-size="6.8" fill="#4a4a4a" text-anchor="middle" font-weight="normal" stroke="#4a4a4a" stroke-width="0.12">2</text>
<text x="52.8" y="224.8" font-size="6.8" fill="#4a4a4a" text-anchor="middle" font-weight="normal" stroke="#4a4a4a" stroke-width="0.12">3</text>
<text x="59.3" y="224.8" font-size="6.8" fill="#4a4a4a" text-anchor="middle" font-weight="normal" stroke="#4a4a4a" stroke-width="0.12">4</text>
<text x="65.5" y="224.8" font-size="6.8" fill="#4a4a4a" text-anchor="middle" font-weight="normal" stroke="#4a4a4a" stroke-width="0.12">5</text>
<text x="71.4" y="224.8" font-size="6.8" fill="#4a4a4a" text-anchor="middle" font-weight="normal" stroke="#4a4a4a" stroke-width="0.12">6</text>
<text x="77.0" y="224.8" font-size="6.8" fill="#4a4a4a" text-anchor="middle" font-weight="normal" stroke="#4a4a4a" stroke-width="0.12">7</text>
<text x="82.1" y="224.8" font-size="6.8" fill="#4a4a4a" text-anchor="middle" font-weight="normal" stroke="#4a4a4a" stroke-width="0.12">8</text>
<text x="86.9" y="224.8" font-size="6.8" fill="#4a4a4a" text-anchor="middle" font-weight="normal" stroke="#4a4a4a" stroke-width="0.12">9</text>
<text x="108.5" y="224.8" font-size="6.8" fill="#4a4a4a" text-anchor="middle" font-weight="normal" stroke="#4a4a4a" stroke-width="0.12">14</text>
<text x="120.8" y="224.8" font-size="6.8" fill="#4a4a4a" text-anchor="middle" font-weight="normal" stroke="#4a4a4a" stroke-width="0.12">18</text>
<text x="128.7" y="224.8" font-size="6.8" fill="#4a4a4a" text-anchor="middle" font-weight="normal" stroke="#4a4a4a" stroke-width="0.12">22</text>
<text x="62.3" y="148.8" font-size="6.3" fill="#333" text-anchor="start" font-weight="normal" stroke="#333" stroke-width="0.12" textLength="42.7" lengthAdjust="spacingAndGlyphs">Pre-venetoclax</text>
<text x="72.0" y="158.0" font-size="6.3" fill="#333" text-anchor="start" font-weight="normal" stroke="#333" stroke-width="0.12" textLength="23.0" lengthAdjust="spacingAndGlyphs">CLL4-T1</text>
<line x1="30.5" y1="167.6" x2="32.8" y2="167.6" stroke="#111" stroke-width="0.9"/>
<text x="25.3" y="170.0" font-size="6.8" fill="#4a4a4a" text-anchor="middle" font-weight="normal" stroke="#4a4a4a" stroke-width="0.12">2</text>
<line x1="30.5" y1="182.7" x2="32.8" y2="182.7" stroke="#111" stroke-width="0.9"/>
<text x="25.3" y="185.1" font-size="6.8" fill="#4a4a4a" text-anchor="middle" font-weight="normal" stroke="#4a4a4a" stroke-width="0.12">1</text>
<line x1="30.5" y1="197.9" x2="32.8" y2="197.9" stroke="#111" stroke-width="0.9"/>
<text x="25.3" y="200.3" font-size="6.8" fill="#4a4a4a" text-anchor="middle" font-weight="normal" stroke="#4a4a4a" stroke-width="0.12">0</text>
<text x="15.3" y="185.3" font-size="8.2" fill="#3a3a3a" text-anchor="middle" font-weight="normal" stroke="#3a3a3a" stroke-width="0.12" textLength="48.5" lengthAdjust="spacingAndGlyphs" transform="rotate(-90 15.3 182.3)">Allelic copy ratio</text>
<text x="63.7" y="236.5" font-size="8.2" fill="#3a3a3a" text-anchor="start" font-weight="normal" stroke="#3a3a3a" stroke-width="0.12" textLength="39.7" lengthAdjust="spacingAndGlyphs">Chromosome</text>
<rect x="33.50" y="179.60" width="101.30" height="5.00" fill="#a2a2a2"/>
<rect x="36.30" y="183.00" width="1.30" height="4.50" fill="#a2a2a2"/>
<rect x="55.70" y="179.40" width="7.40" height="5.40" fill="#6a6cb8"/>
<rect x="63.10" y="179.40" width="8.10" height="5.40" fill="#6c72bc"/>
<rect x="71.20" y="179.40" width="2.50" height="5.40" fill="#8aa0b0"/>
<rect x="73.70" y="179.40" width="6.50" height="5.40" fill="#6a9a98"/>
<rect x="81.00" y="179.40" width="3.30" height="5.40" fill="#5a9a5a"/>
<rect x="85.10" y="179.40" width="8.20" height="5.40" fill="#6a70bc"/>
<rect x="100.70" y="179.40" width="3.20" height="5.40" fill="#a8b0c8"/>
<rect x="105.60" y="179.40" width="2.40" height="5.40" fill="#7078c0"/>
<rect x="111.30" y="179.40" width="1.70" height="5.40" fill="#7078c0"/>
<rect x="118.60" y="179.40" width="1.90" height="5.40" fill="#b4a488"/>
<rect x="122.00" y="179.40" width="1.50" height="5.40" fill="#9ab0a0"/>
<rect x="126.80" y="179.40" width="1.70" height="5.40" fill="#7078c0"/>
<rect x="129.50" y="179.40" width="3.50" height="5.40" fill="#9aa0b8"/>
<rect x="82.10" y="164.90" width="1.30" height="4.90" fill="#3a8a3a"/>
<rect x="82.50" y="160.00" width="0.60" height="4.00" fill="#ccc"/>
<rect x="169.43" y="149.50" width="8.23" height="63.50" fill="#f6f6f6"/>
<rect x="184.37" y="149.50" width="6.47" height="63.50" fill="#f6f6f6"/>
<rect x="196.97" y="149.50" width="5.79" height="63.50" fill="#f6f6f6"/>
<rect x="208.15" y="149.50" width="4.95" height="63.50" fill="#f6f6f6"/>
<rect x="217.87" y="149.50" width="4.61" height="63.50" fill="#f6f6f6"/>
<rect x="227.05" y="149.50" width="4.54" height="63.50" fill="#f6f6f6"/>
<rect x="235.48" y="149.50" width="3.62" height="63.50" fill="#f6f6f6"/>
<rect x="242.59" y="149.50" width="3.05" height="63.50" fill="#f6f6f6"/>
<rect x="248.38" y="149.50" width="2.64" height="63.50" fill="#f6f6f6"/>
<rect x="253.02" y="149.50" width="2.13" height="63.50" fill="#f6f6f6"/>
<rect x="256.78" y="149.50" width="1.73" height="63.50" fill="#f6f6f6"/>
<line x1="161.0" y1="149.5" x2="161.0" y2="213.5" stroke="#111" stroke-width="1.1"/>
<line x1="160.5" y1="213.0" x2="264.3" y2="213.0" stroke="#111" stroke-width="1.1"/>
<line x1="165.2" y1="213.0" x2="165.2" y2="215.3" stroke="#111" stroke-width="0.8"/>
<line x1="173.5" y1="213.0" x2="173.5" y2="215.3" stroke="#111" stroke-width="0.8"/>
<line x1="181.0" y1="213.0" x2="181.0" y2="215.3" stroke="#111" stroke-width="0.8"/>
<line x1="187.6" y1="213.0" x2="187.6" y2="215.3" stroke="#111" stroke-width="0.8"/>
<line x1="193.9" y1="213.0" x2="193.9" y2="215.3" stroke="#111" stroke-width="0.8"/>
<line x1="199.9" y1="213.0" x2="199.9" y2="215.3" stroke="#111" stroke-width="0.8"/>
<line x1="205.5" y1="213.0" x2="205.5" y2="215.3" stroke="#111" stroke-width="0.8"/>
<line x1="210.6" y1="213.0" x2="210.6" y2="215.3" stroke="#111" stroke-width="0.8"/>
<line x1="215.5" y1="213.0" x2="215.5" y2="215.3" stroke="#111" stroke-width="0.8"/>
<line x1="220.2" y1="213.0" x2="220.2" y2="215.3" stroke="#111" stroke-width="0.8"/>
<line x1="224.8" y1="213.0" x2="224.8" y2="215.3" stroke="#111" stroke-width="0.8"/>
<line x1="229.3" y1="213.0" x2="229.3" y2="215.3" stroke="#111" stroke-width="0.8"/>
<line x1="233.5" y1="213.0" x2="233.5" y2="215.3" stroke="#111" stroke-width="0.8"/>
<line x1="237.3" y1="213.0" x2="237.3" y2="215.3" stroke="#111" stroke-width="0.8"/>
<line x1="240.8" y1="213.0" x2="240.8" y2="215.3" stroke="#111" stroke-width="0.8"/>
<line x1="244.1" y1="213.0" x2="244.1" y2="215.3" stroke="#111" stroke-width="0.8"/>
<line x1="247.0" y1="213.0" x2="247.0" y2="215.3" stroke="#111" stroke-width="0.8"/>
<line x1="249.7" y1="213.0" x2="249.7" y2="215.3" stroke="#111" stroke-width="0.8"/>
<line x1="252.0" y1="213.0" x2="252.0" y2="215.3" stroke="#111" stroke-width="0.8"/>
<line x1="254.1" y1="213.0" x2="254.1" y2="215.3" stroke="#111" stroke-width="0.8"/>
<line x1="256.0" y1="213.0" x2="256.0" y2="215.3" stroke="#111" stroke-width="0.8"/>
<line x1="257.6" y1="213.0" x2="257.6" y2="215.3" stroke="#111" stroke-width="0.8"/>
<line x1="261.1" y1="213.0" x2="261.1" y2="215.3" stroke="#111" stroke-width="0.8"/>
<text x="165.2" y="224.5" font-size="6.8" fill="#4a4a4a" text-anchor="middle" font-weight="normal" stroke="#4a4a4a" stroke-width="0.12">1</text>
<text x="173.5" y="224.5" font-size="6.8" fill="#4a4a4a" text-anchor="middle" font-weight="normal" stroke="#4a4a4a" stroke-width="0.12">2</text>
<text x="181.0" y="224.5" font-size="6.8" fill="#4a4a4a" text-anchor="middle" font-weight="normal" stroke="#4a4a4a" stroke-width="0.12">3</text>
<text x="187.6" y="224.5" font-size="6.8" fill="#4a4a4a" text-anchor="middle" font-weight="normal" stroke="#4a4a4a" stroke-width="0.12">4</text>
<text x="193.9" y="224.5" font-size="6.8" fill="#4a4a4a" text-anchor="middle" font-weight="normal" stroke="#4a4a4a" stroke-width="0.12">5</text>
<text x="199.9" y="224.5" font-size="6.8" fill="#4a4a4a" text-anchor="middle" font-weight="normal" stroke="#4a4a4a" stroke-width="0.12">6</text>
<text x="205.5" y="224.5" font-size="6.8" fill="#4a4a4a" text-anchor="middle" font-weight="normal" stroke="#4a4a4a" stroke-width="0.12">7</text>
<text x="210.6" y="224.5" font-size="6.8" fill="#4a4a4a" text-anchor="middle" font-weight="normal" stroke="#4a4a4a" stroke-width="0.12">8</text>
<text x="215.5" y="224.5" font-size="6.8" fill="#4a4a4a" text-anchor="middle" font-weight="normal" stroke="#4a4a4a" stroke-width="0.12">9</text>
<text x="237.3" y="224.5" font-size="6.8" fill="#4a4a4a" text-anchor="middle" font-weight="normal" stroke="#4a4a4a" stroke-width="0.12">14</text>
<text x="249.7" y="224.5" font-size="6.8" fill="#4a4a4a" text-anchor="middle" font-weight="normal" stroke="#4a4a4a" stroke-width="0.12">18</text>
<text x="257.6" y="224.5" font-size="6.8" fill="#4a4a4a" text-anchor="middle" font-weight="normal" stroke="#4a4a4a" stroke-width="0.12">22</text>
<text x="189.8" y="147.6" font-size="6.3" fill="#333" text-anchor="start" font-weight="normal" stroke="#333" stroke-width="0.12" textLength="44.8" lengthAdjust="spacingAndGlyphs">Post-venetoclax</text>
<text x="200.3" y="158.2" font-size="6.3" fill="#333" text-anchor="start" font-weight="normal" stroke="#333" stroke-width="0.12" textLength="23.7" lengthAdjust="spacingAndGlyphs">CLL4-T2</text>
<line x1="158.7" y1="166.4" x2="161.0" y2="166.4" stroke="#111" stroke-width="0.9"/>
<text x="153.4" y="168.8" font-size="6.8" fill="#4a4a4a" text-anchor="middle" font-weight="normal" stroke="#4a4a4a" stroke-width="0.12">2</text>
<line x1="158.7" y1="181.7" x2="161.0" y2="181.7" stroke="#111" stroke-width="0.9"/>
<text x="153.4" y="184.1" font-size="6.8" fill="#4a4a4a" text-anchor="middle" font-weight="normal" stroke="#4a4a4a" stroke-width="0.12">1</text>
<line x1="158.7" y1="197.1" x2="161.0" y2="197.1" stroke="#111" stroke-width="0.9"/>
<text x="153.4" y="199.5" font-size="6.8" fill="#4a4a4a" text-anchor="middle" font-weight="normal" stroke="#4a4a4a" stroke-width="0.12">0</text>
<text x="143.5" y="184.8" font-size="8.2" fill="#3a3a3a" text-anchor="middle" font-weight="normal" stroke="#3a3a3a" stroke-width="0.12" textLength="48.5" lengthAdjust="spacingAndGlyphs" transform="rotate(-90 143.5 181.8)">Allelic copy ratio</text>
<text x="192.3" y="236.0" font-size="8.2" fill="#3a3a3a" text-anchor="start" font-weight="normal" stroke="#3a3a3a" stroke-width="0.12" textLength="40.2" lengthAdjust="spacingAndGlyphs">Chromosome</text>
<rect x="161.50" y="179.20" width="102.30" height="5.20" fill="#a0a0a0"/>
<rect x="184.00" y="179.00" width="7.70" height="5.60" fill="#6a70bc"/>
<rect x="192.70" y="179.00" width="5.80" height="5.60" fill="#6a70bc"/>
<rect x="199.40" y="179.00" width="2.90" height="5.60" fill="#7a84c0"/>
<rect x="204.80" y="179.00" width="1.20" height="5.60" fill="#8ab0c0"/>
<rect x="209.50" y="179.00" width="1.50" height="5.60" fill="#5a9a70"/>
<rect x="215.80" y="179.00" width="6.70" height="5.60" fill="#6a70bc"/>
<rect x="236.00" y="179.00" width="2.80" height="5.60" fill="#5a64b0"/>
<rect x="247.50" y="179.00" width="2.90" height="5.60" fill="#c0a888"/>
<rect x="254.60" y="179.00" width="1.60" height="5.60" fill="#5a64b0"/>
<rect x="184.00" y="186.00" width="7.70" height="4.80" fill="#5a62b0"/>
<rect x="192.70" y="186.00" width="3.30" height="4.80" fill="#5a62b0"/>
<rect x="196.50" y="186.00" width="2.00" height="4.80" fill="#5a62b0"/>
<rect x="201.00" y="186.00" width="1.30" height="4.80" fill="#5a62b0"/>
<rect x="215.80" y="186.00" width="3.20" height="4.80" fill="#5a62b0"/>
<rect x="219.50" y="186.00" width="3.00" height="4.80" fill="#5a62b0"/>
<rect x="236.00" y="186.00" width="2.80" height="4.80" fill="#5a62b0"/>
<rect x="254.60" y="186.00" width="1.60" height="4.80" fill="#5a62b0"/>
<rect x="211.10" y="162.00" width="0.80" height="4.50" fill="#666"/>
<rect x="211.30" y="168.50" width="0.80" height="5.00" fill="#666"/>
<path d="M210.6,193.5 L209.3,201 L210.2,201 L211.3,193.5 Z" fill="#5a7a7a" stroke="none" stroke-width="0"/>
<path d="M209.2,200.5 C211,203.8 211.2,206.8 209.2,206.8 C207.2,206.8 207.4,203.8 209.2,200.5 Z" fill="#000" stroke="none" stroke-width="0"/>
<rect x="213.50" y="193.00" width="0.70" height="5.00" fill="#9ad0e8"/>
<rect x="233.00" y="193.00" width="0.70" height="5.00" fill="#d0d0d0"/>
<rect x="245.60" y="193.00" width="0.70" height="5.00" fill="#b0d0e8"/>
<rect x="248.50" y="193.00" width="0.70" height="5.00" fill="#f0b060"/>
<rect x="250.00" y="193.00" width="0.70" height="5.00" fill="#f0a040"/>
<text x="7.8" y="255.8" font-size="12.3" fill="#111" text-anchor="start" font-weight="bold" textLength="7.5" lengthAdjust="spacingAndGlyphs">B</text>
<line x1="33.1" y1="265.5" x2="33.1" y2="346.8" stroke="#111" stroke-width="1.1"/>
<line x1="32.6" y1="346.3" x2="145.6" y2="346.3" stroke="#111" stroke-width="1.1"/>
<line x1="30.8" y1="345.9" x2="33.1" y2="345.9" stroke="#111" stroke-width="0.9"/>
<text x="28.0" y="348.3" font-size="6.6" fill="#4a4a4a" text-anchor="end" font-weight="normal" stroke="#4a4a4a" stroke-width="0.12" textLength="9.6" lengthAdjust="spacingAndGlyphs">0.0</text>
<line x1="30.8" y1="338.0" x2="33.1" y2="338.0" stroke="#111" stroke-width="0.9"/>
<text x="28.0" y="340.4" font-size="6.6" fill="#4a4a4a" text-anchor="end" font-weight="normal" stroke="#4a4a4a" stroke-width="0.12" textLength="9.6" lengthAdjust="spacingAndGlyphs">0.1</text>
<line x1="30.8" y1="330.1" x2="33.1" y2="330.1" stroke="#111" stroke-width="0.9"/>
<text x="28.0" y="332.5" font-size="6.6" fill="#4a4a4a" text-anchor="end" font-weight="normal" stroke="#4a4a4a" stroke-width="0.12" textLength="9.6" lengthAdjust="spacingAndGlyphs">0.2</text>
<line x1="30.8" y1="322.2" x2="33.1" y2="322.2" stroke="#111" stroke-width="0.9"/>
<text x="28.0" y="324.6" font-size="6.6" fill="#4a4a4a" text-anchor="end" font-weight="normal" stroke="#4a4a4a" stroke-width="0.12" textLength="9.6" lengthAdjust="spacingAndGlyphs">0.3</text>
<line x1="30.8" y1="314.3" x2="33.1" y2="314.3" stroke="#111" stroke-width="0.9"/>
<text x="28.0" y="316.7" font-size="6.6" fill="#4a4a4a" text-anchor="end" font-weight="normal" stroke="#4a4a4a" stroke-width="0.12" textLength="9.6" lengthAdjust="spacingAndGlyphs">0.4</text>
<line x1="30.8" y1="306.4" x2="33.1" y2="306.4" stroke="#111" stroke-width="0.9"/>
<text x="28.0" y="308.8" font-size="6.6" fill="#4a4a4a" text-anchor="end" font-weight="normal" stroke="#4a4a4a" stroke-width="0.12" textLength="9.6" lengthAdjust="spacingAndGlyphs">0.5</text>
<line x1="30.8" y1="298.5" x2="33.1" y2="298.5" stroke="#111" stroke-width="0.9"/>
<text x="28.0" y="300.9" font-size="6.6" fill="#4a4a4a" text-anchor="end" font-weight="normal" stroke="#4a4a4a" stroke-width="0.12" textLength="9.6" lengthAdjust="spacingAndGlyphs">0.6</text>
<line x1="30.8" y1="290.6" x2="33.1" y2="290.6" stroke="#111" stroke-width="0.9"/>
<text x="28.0" y="293.0" font-size="6.6" fill="#4a4a4a" text-anchor="end" font-weight="normal" stroke="#4a4a4a" stroke-width="0.12" textLength="9.6" lengthAdjust="spacingAndGlyphs">0.7</text>
<line x1="30.8" y1="282.7" x2="33.1" y2="282.7" stroke="#111" stroke-width="0.9"/>
<text x="28.0" y="285.1" font-size="6.6" fill="#4a4a4a" text-anchor="end" font-weight="normal" stroke="#4a4a4a" stroke-width="0.12" textLength="9.6" lengthAdjust="spacingAndGlyphs">0.8</text>
<line x1="30.8" y1="274.8" x2="33.1" y2="274.8" stroke="#111" stroke-width="0.9"/>
<text x="28.0" y="277.2" font-size="6.6" fill="#4a4a4a" text-anchor="end" font-weight="normal" stroke="#4a4a4a" stroke-width="0.12" textLength="9.6" lengthAdjust="spacingAndGlyphs">0.9</text>
<line x1="30.8" y1="266.9" x2="33.1" y2="266.9" stroke="#111" stroke-width="0.9"/>
<text x="28.0" y="269.3" font-size="6.6" fill="#4a4a4a" text-anchor="end" font-weight="normal" stroke="#4a4a4a" stroke-width="0.12" textLength="9.6" lengthAdjust="spacingAndGlyphs">1.0</text>
<line x1="38.0" y1="346.3" x2="38.0" y2="348.8" stroke="#111" stroke-width="0.9"/>
<line x1="139.6" y1="346.3" x2="139.6" y2="348.8" stroke="#111" stroke-width="0.9"/>
<text x="37.6" y="357.9" font-size="6.8" fill="#4a4a4a" text-anchor="middle" font-weight="normal" stroke="#4a4a4a" stroke-width="0.12" textLength="10.3" lengthAdjust="spacingAndGlyphs">486</text>
<text x="139.6" y="358.1" font-size="6.8" fill="#4a4a4a" text-anchor="middle" font-weight="normal" stroke="#4a4a4a" stroke-width="0.12" textLength="13.8" lengthAdjust="spacingAndGlyphs">2086</text>
<text x="10.5" y="310.0" font-size="8.4" fill="#3a3a3a" text-anchor="middle" font-weight="normal" stroke="#3a3a3a" stroke-width="0.12" textLength="11.2" lengthAdjust="spacingAndGlyphs" transform="rotate(-90 10.5 307.0)">CCF</text>
<text x="59.4" y="369.8" font-size="8.8" fill="#3a3a3a" text-anchor="start" font-weight="normal" stroke="#3a3a3a" stroke-width="0.12" textLength="60.3" lengthAdjust="spacingAndGlyphs">Days from diagnosis</text>
<text x="82.0" y="259.8" font-size="6.5" fill="#3a3a3a" text-anchor="start" font-weight="normal" stroke="#3a3a3a" stroke-width="0.12" textLength="14.8" lengthAdjust="spacingAndGlyphs">CLL9</text>
<path d="M34.0,345.1 L139.8,345.1" fill="none" stroke="#e0e0c0" stroke-width="2.2" opacity="0.5"/>
<path d="M34.0,345.1 L139.8,345.1" fill="none" stroke="#c8c890" stroke-width="1.0"/>
<path d="M34.0,343.5 L139.8,343.5" fill="none" stroke="#8a4a2a" stroke-width="1.4"/>
<circle cx="34.0" cy="343.5" r="1.50" fill="#6a2a10" stroke="none" stroke-width="0"/>
<circle cx="139.8" cy="343.5" r="1.50" fill="#6a2a10" stroke="none" stroke-width="0"/>
<path d="M34.0,333.3 L139.8,341.9" fill="none" stroke="#c8caf0" stroke-width="5.5" opacity="0.5"/>
<path d="M34.0,333.3 L139.8,341.9" fill="none" stroke="#7b7fc8" stroke-width="1.1"/>
<circle cx="34.0" cy="333.3" r="1.50" fill="#5a5fb0" stroke="none" stroke-width="0"/>
<circle cx="139.8" cy="341.9" r="1.50" fill="#5a5fb0" stroke="none" stroke-width="0"/>
<path d="M34.0,342.7 L139.8,323.0" fill="none" stroke="#fad6aa" stroke-width="4.0" opacity="0.5"/>
<path d="M34.0,342.7 L139.8,323.0" fill="none" stroke="#f4b468" stroke-width="1.6"/>
<path d="M34.0,312.7 L139.8,344.3" fill="none" stroke="#9aa3a0" stroke-width="4.5" opacity="0.5"/>
<path d="M34.0,312.7 L139.8,344.3" fill="none" stroke="#3b4744" stroke-width="1.3"/>
<circle cx="34.0" cy="312.7" r="1.50" fill="#1e2624" stroke="none" stroke-width="0"/>
<circle cx="139.8" cy="344.3" r="1.50" fill="#1e2624" stroke="none" stroke-width="0"/>
<path d="M34.0,342.7 L139.8,268.5" fill="none" stroke="#d8eef9" stroke-width="2.5" opacity="0.5"/>
<path d="M34.0,342.7 L139.8,268.5" fill="none" stroke="#a8d8f2" stroke-width="1.0"/>
<circle cx="34.0" cy="342.7" r="1.50" fill="#8cc8ea" stroke="none" stroke-width="0"/>
<circle cx="139.8" cy="268.5" r="1.50" fill="#8cc8ea" stroke="none" stroke-width="0"/>
<path d="M34.0,269.3 L139.8,266.1" fill="none" stroke="#b0cca0" stroke-width="3.4" opacity="0.5"/>
<path d="M34.0,269.3 L139.8,266.1" fill="none" stroke="#5a8a48" stroke-width="1.4"/>
<circle cx="34.0" cy="269.3" r="1.50" fill="#2e6e2a" stroke="none" stroke-width="0"/>
<circle cx="139.8" cy="266.1" r="1.50" fill="#2e6e2a" stroke="none" stroke-width="0"/>
<circle cx="222.5" cy="267.6" r="4.80" fill="#c0c0c0" stroke="none" stroke-width="0"/>
<line x1="222.5" y1="273.9" x2="222.5" y2="279.8" stroke="#2e8b3a" stroke-width="3.8"/>
<text x="222.5" y="286.0" font-size="4.0" fill="#444" text-anchor="middle" font-weight="normal" stroke="#444" stroke-width="0.12">16</text>
<line x1="222.5" y1="288.5" x2="222.5" y2="309.1" stroke="#2e8b3a" stroke-width="3.8"/>
<line x1="219.6" y1="312.3" x2="213.3" y2="317.0" stroke="#1c2b28" stroke-width="3.8"/>
<text x="208.5" y="320.8" font-size="4.0" fill="#444" text-anchor="middle" font-weight="normal" stroke="#444" stroke-width="0.12">8</text>
<line x1="203.8" y1="321.0" x2="193.5" y2="327.5" stroke="#1c2b28" stroke-width="3.8"/>
<circle cx="191.9" cy="328.5" r="2.30" fill="#1c2b28" stroke="none" stroke-width="0"/>
<circle cx="191.9" cy="328.5" r="0.70" fill="#e8e8e8" stroke="none" stroke-width="0"/>
<line x1="224.7" y1="312.1" x2="229.6" y2="314.2" stroke="#6f6fb8" stroke-width="4.6000000000000005"/>
<text x="234.7" y="317.2" font-size="4.0" fill="#444" text-anchor="middle" font-weight="normal" stroke="#444" stroke-width="0.12">2</text>
<line x1="238.2" y1="316.3" x2="244.9" y2="319.4" stroke="#6f6fb8" stroke-width="4.6000000000000005"/>
<circle cx="247.3" cy="320.2" r="2.30" fill="#6f6fb8" stroke="none" stroke-width="0"/>
<circle cx="247.3" cy="320.2" r="0.70" fill="#e8e8e8" stroke="none" stroke-width="0"/>
<line x1="222.8" y1="313.0" x2="223.2" y2="323.4" stroke="#8cc8ec" stroke-width="3.8"/>
<text x="223.5" y="329.5" font-size="4.0" fill="#444" text-anchor="middle" font-weight="normal" stroke="#444" stroke-width="0.12">9</text>
<line x1="224.0" y1="332.7" x2="224.0" y2="344.3" stroke="#8cc8ec" stroke-width="3.8"/>
<circle cx="224.0" cy="345.8" r="1.30" fill="#4a90c0" stroke="none" stroke-width="0"/>
<line x1="224.9" y1="348.8" x2="234.6" y2="380.6" stroke="#ec8f24" stroke-width="3.4"/>
<circle cx="235.5" cy="382.0" r="2.10" fill="#ec8f24" stroke="#a05a10" stroke-width="0.6"/>
<circle cx="222.3" cy="311.2" r="2.00" fill="#2a4a30" stroke="#2e8b3a" stroke-width="0.9"/>
<circle cx="222.3" cy="311.2" r="0.60" fill="#cfe8cf" stroke="none" stroke-width="0"/>
<text x="166.9" y="299.2" font-size="6.6" fill="#3a9a48" text-anchor="start" font-weight="normal" stroke="#3a9a48" stroke-width="0.12" textLength="49.0" lengthAdjust="spacingAndGlyphs">PPM1D_p.V464fs</text>
<text x="230.4" y="334.4" font-size="6.4" fill="#6cb8e6" text-anchor="start" font-weight="normal" stroke="#6cb8e6" stroke-width="0.12" textLength="28.6" lengthAdjust="spacingAndGlyphs">Loss 9p21</text>
<text x="230.4" y="342.0" font-size="6.4" fill="#6cb8e6" text-anchor="start" font-weight="normal" stroke="#6cb8e6" stroke-width="0.12" textLength="28.6" lengthAdjust="spacingAndGlyphs">Loss 3p23</text>
<text x="210.3" y="342.6" font-size="4.6" fill="#666" text-anchor="middle" font-weight="normal" stroke="#666" stroke-width="0.12">nm</text>
<text x="215.6" y="356.1" font-size="6.4" fill="#f0a23c" text-anchor="end" font-weight="normal" stroke="#f0a23c" stroke-width="0.12" textLength="42.8" lengthAdjust="spacingAndGlyphs">U2AF1_p.S34A</text>
<text x="221.9" y="363.1" font-size="6.4" fill="#f0a23c" text-anchor="end" font-weight="normal" stroke="#f0a23c" stroke-width="0.12" textLength="59.2" lengthAdjust="spacingAndGlyphs">SPEN_p.LVHE1207fs</text>
<text x="227.2" y="370.3" font-size="6.4" fill="#f0a23c" text-anchor="end" font-weight="normal" stroke="#f0a23c" stroke-width="0.12" textLength="47.6" lengthAdjust="spacingAndGlyphs">BCL2_p.G101V</text>
<text x="227.2" y="377.3" font-size="6.4" fill="#f0a23c" text-anchor="end" font-weight="normal" stroke="#f0a23c" stroke-width="0.12" textLength="20.5" lengthAdjust="spacingAndGlyphs">Loss 6p</text>
<text x="230.0" y="384.3" font-size="6.4" fill="#f0a23c" text-anchor="end" font-weight="normal" stroke="#f0a23c" stroke-width="0.12" textLength="22.5" lengthAdjust="spacingAndGlyphs">Gain 8q</text>
<text x="367.1" y="272.5" font-size="7.0" fill="#333" text-anchor="start" font-weight="normal" stroke="#333" stroke-width="0.12" textLength="31.7" lengthAdjust="spacingAndGlyphs">Venetoclax</text>
<rect x="352.70" y="275.00" width="59.20" height="6.50" fill="#6cbb34" rx="3.25"/>
<ellipse cx="452.7" cy="279" rx="4.9" ry="3.5" fill="#7a3e9e"/>
<line x1="354.4" y1="286.6" x2="503.0" y2="286.6" stroke="#000" stroke-width="1.7"/>
<polygon points="498.8,283.2 511.3,286.9 498.8,290.6 501.8,286.8" fill="#000"/>
<line x1="355.0" y1="284.8" x2="355.0" y2="286.6" stroke="#bbb" stroke-width="0.7"/>
<line x1="356.5" y1="284.8" x2="356.5" y2="286.6" stroke="#bbb" stroke-width="0.7"/>
<line x1="358.0" y1="284.8" x2="358.0" y2="286.6" stroke="#bbb" stroke-width="0.7"/>
<line x1="433.0" y1="284.8" x2="433.0" y2="286.6" stroke="#bbb" stroke-width="0.7"/>
<line x1="440.0" y1="284.8" x2="440.0" y2="286.6" stroke="#bbb" stroke-width="0.7"/>
<line x1="446.0" y1="284.8" x2="446.0" y2="286.6" stroke="#bbb" stroke-width="0.7"/>
<path d="M327.8,307.9 Q331.5,303 332.3,287.7 L352.8,287.7 L352.8,328.8 L332.3,328.8 Q331.5,313 327.8,307.9 Z" fill="#3e8e32" stroke="none" stroke-width="0"/>
<polygon points="349.0,308.0 351.5,294.5 353.0,300.0 353.0,316.0" fill="#8ac47a"/>
<polygon points="348.0,308.0 351.5,300.0 353.5,305.0 353.5,325.0 351.0,318.0" fill="#1f3a2a"/>
<line x1="354.2" y1="307.9" x2="476.0" y2="307.9" stroke="#777" stroke-width="1.0"/>
<path d="M475.6,307.9 Q484.5,303 488.4,290.5 L488.4,326.8 Q484.5,313 475.6,307.9 Z" fill="#9ed0ee" stroke="#a8b8c0" stroke-width="0.4"/>
<path d="M478.8,308.1 L484,305.6 L488.4,304.9 L488.4,311.6 L484,310.6 Z" fill="#f0951e" stroke="none" stroke-width="0"/>
<line x1="354.2" y1="288.5" x2="354.2" y2="407.5" stroke="#2a2a2a" stroke-width="1.1" stroke-dasharray="1.5 4.1"/>
<text x="354.2" y="413.6" font-size="6.8" fill="#333" text-anchor="middle" font-weight="normal" stroke="#333" stroke-width="0.12">T1</text>
<line x1="488.3" y1="288.5" x2="488.3" y2="407.5" stroke="#2a2a2a" stroke-width="1.1" stroke-dasharray="1.5 4.1"/>
<text x="488.3" y="413.6" font-size="6.8" fill="#333" text-anchor="middle" font-weight="normal" stroke="#333" stroke-width="0.12">T2</text>
<line x1="290.6" y1="352.1" x2="314.0" y2="352.1" stroke="#8ac47a" stroke-width="0.9"/>
<polygon points="312.5,350.6 315.5,352.1 312.5,353.6" fill="#8ac47a"/>
<line x1="327.8" y1="350.3" x2="349.0" y2="350.1" stroke="#ddd" stroke-width="0.7"/>
<line x1="359.0" y1="350.1" x2="484.5" y2="349.6" stroke="#e0cfe0" stroke-width="0.9"/>
<polygon points="482.5,348.4 485.8,349.5 482.5,350.6" fill="#d0b0d0"/>
<line x1="327.3" y1="354.2" x2="336.3" y2="359.6" stroke="#111" stroke-width="0.9"/>
<polygon points="334.6,358.0 338.3,361.0 333.9,361.0" fill="#111"/>
<line x1="344.0" y1="362.7" x2="350.0" y2="362.7" stroke="#ccc" stroke-width="0.7"/>
<line x1="323.0" y1="357.5" x2="334.5" y2="377.5" stroke="#aac8e8" stroke-width="0.7"/>
<line x1="339.0" y1="380.4" x2="350.7" y2="380.4" stroke="#ccc" stroke-width="0.7"/>
<line x1="357.5" y1="380.4" x2="482.8" y2="379.5" stroke="#d8c8d8" stroke-width="0.8"/>
<polygon points="481.0,378.4 484.0,379.4 481.0,380.6" fill="#c8b0c0"/>
<line x1="357.5" y1="381.5" x2="484.5" y2="393.5" stroke="#f0a040" stroke-width="0.8"/>
<polygon points="482.3,392.2 485.5,393.8 482.0,394.6" fill="#f0a040"/>
<circle cx="321.2" cy="352.1" r="6.60" fill="#3a8d2e" stroke="#4a9e3a" stroke-width="0.7"/>
<circle cx="354.0" cy="350.1" r="5.00" fill="#3a8d2e" stroke="#4a9e3a" stroke-width="0.7"/>
<circle cx="340.0" cy="362.7" r="3.50" fill="#152a18" stroke="#2e6a2a" stroke-width="0.8"/>
<circle cx="354.2" cy="362.7" r="3.50" fill="#152a18" stroke="#2e6a2a" stroke-width="0.8"/>
<circle cx="335.8" cy="380.4" r="2.70" fill="#a8d8ea" stroke="#5a9aa0" stroke-width="0.8"/>
<circle cx="354.2" cy="380.4" r="2.70" fill="#a8d8ea" stroke="#5a9aa0" stroke-width="0.8"/>
<circle cx="488.8" cy="349.3" r="2.40" fill="#2e7a2a" stroke="#1e5a1a" stroke-width="0.5"/>
<circle cx="488.8" cy="379.3" r="5.30" fill="#a0d4f0" stroke="#2e8a3a" stroke-width="1.2"/>
<circle cx="488.8" cy="393.8" r="3.80" fill="#f0951e" stroke="#3a8a2f" stroke-width="1.2"/>
<text x="314.9" y="370.2" font-size="6.5" fill="#6cb4e6" text-anchor="middle" font-weight="normal" stroke="#6cb4e6" stroke-width="0.12" textLength="28.2" lengthAdjust="spacingAndGlyphs">Loss 9p21</text>
<text x="314.9" y="377.9" font-size="6.5" fill="#6cb4e6" text-anchor="middle" font-weight="normal" stroke="#6cb4e6" stroke-width="0.12" textLength="28.2" lengthAdjust="spacingAndGlyphs">Loss 3p23</text>
<text x="357.9" y="375.0" font-size="6.5" fill="#222" text-anchor="start" font-weight="normal" stroke="#222" stroke-width="0.12" textLength="47.1" lengthAdjust="spacingAndGlyphs">PPM1D p.V464fs</text>
<text x="368.0" y="393.1" font-size="6.5" fill="#f0a23c" text-anchor="start" font-weight="normal" stroke="#f0a23c" stroke-width="0.12" textLength="40.0" lengthAdjust="spacingAndGlyphs">U2AF1 p.S34A</text>
<text x="368.0" y="399.8" font-size="6.5" fill="#f0a23c" text-anchor="start" font-weight="normal" stroke="#f0a23c" stroke-width="0.12" textLength="56.0" lengthAdjust="spacingAndGlyphs">SPEN p.LVHE1207fs</text>
<text x="368.0" y="406.3" font-size="6.5" fill="#f0a23c" text-anchor="start" font-weight="normal" stroke="#f0a23c" stroke-width="0.12" textLength="39.0" lengthAdjust="spacingAndGlyphs">BCL2 p.G101V</text>
<text x="368.0" y="413.6" font-size="6.5" fill="#f0a23c" text-anchor="start" font-weight="normal" stroke="#f0a23c" stroke-width="0.12" textLength="22.0" lengthAdjust="spacingAndGlyphs">Gain 8q</text>
<text x="368.0" y="420.5" font-size="6.5" fill="#f0a23c" text-anchor="start" font-weight="normal" stroke="#f0a23c" stroke-width="0.12" textLength="21.5" lengthAdjust="spacingAndGlyphs">Loss 8p</text>
<circle cx="395.2" cy="460.2" r="1.30" fill="#d2d0d0" stroke="none" stroke-width="0"/>
<text x="0" y="0" font-size="6.4" fill="#444" textLength="28.5" lengthAdjust="spacingAndGlyphs" transform="translate(392.5 425.0) rotate(90)">[0.0, 0.05)</text>
<circle cx="403.8" cy="460.2" r="3.20" fill="#d2d0d0" stroke="none" stroke-width="0"/>
<text x="0" y="0" font-size="6.4" fill="#444" textLength="27.5" lengthAdjust="spacingAndGlyphs" transform="translate(401.3 425.0) rotate(90)">[0.05, 0.1)</text>
<circle cx="412.2" cy="460.2" r="3.80" fill="#d2d0d0" stroke="none" stroke-width="0"/>
<text x="0" y="0" font-size="6.4" fill="#444" textLength="23.8" lengthAdjust="spacingAndGlyphs" transform="translate(410.1 425.0) rotate(90)">[0.1, 0.3)</text>
<circle cx="422.1" cy="460.2" r="4.60" fill="#d2d0d0" stroke="none" stroke-width="0"/>
<text x="0" y="0" font-size="6.4" fill="#444" textLength="23.8" lengthAdjust="spacingAndGlyphs" transform="translate(420.1 425.0) rotate(90)">[0.3, 0.5)</text>
<circle cx="435.6" cy="460.2" r="5.90" fill="#d2d0d0" stroke="none" stroke-width="0"/>
<text x="0" y="0" font-size="6.4" fill="#444" textLength="25.0" lengthAdjust="spacingAndGlyphs" transform="translate(433.1 425.0) rotate(90)">[0.5, 0.7)</text>
<circle cx="449.0" cy="460.2" r="6.50" fill="#d2d0d0" stroke="none" stroke-width="0"/>
<text x="0" y="0" font-size="6.4" fill="#444" textLength="25.0" lengthAdjust="spacingAndGlyphs" transform="translate(447.7 425.0) rotate(90)">[0.7, 0.9)</text>
<circle cx="466.0" cy="460.2" r="7.50" fill="#d2d0d0" stroke="none" stroke-width="0"/>
<text x="0" y="0" font-size="6.4" fill="#444" textLength="25.0" lengthAdjust="spacingAndGlyphs" transform="translate(462.5 425.0) rotate(90)">[0.9, 1.0]</text>
<text x="348.6" y="459.1" font-size="6.8" fill="#333" text-anchor="start" font-weight="normal" stroke="#333" stroke-width="0.12" textLength="39.1" lengthAdjust="spacingAndGlyphs">Clone Size by</text>
<text x="349.4" y="466.7" font-size="6.8" fill="#333" text-anchor="start" font-weight="normal" stroke="#333" stroke-width="0.12" textLength="35.0" lengthAdjust="spacingAndGlyphs">CCF interval</text>
<rect x="38.93" y="402.00" width="8.66" height="75.20" fill="#f6f6f6"/>
<rect x="54.65" y="402.00" width="6.81" height="75.20" fill="#f6f6f6"/>
<rect x="67.91" y="402.00" width="6.09" height="75.20" fill="#f6f6f6"/>
<rect x="79.67" y="402.00" width="5.20" height="75.20" fill="#f6f6f6"/>
<rect x="89.90" y="402.00" width="4.85" height="75.20" fill="#f6f6f6"/>
<rect x="99.56" y="402.00" width="4.78" height="75.20" fill="#f6f6f6"/>
<rect x="108.43" y="402.00" width="3.81" height="75.20" fill="#f6f6f6"/>
<rect x="115.92" y="402.00" width="3.21" height="75.20" fill="#f6f6f6"/>
<rect x="122.01" y="402.00" width="2.78" height="75.20" fill="#f6f6f6"/>
<rect x="126.89" y="402.00" width="2.25" height="75.20" fill="#f6f6f6"/>
<rect x="130.85" y="402.00" width="1.82" height="75.20" fill="#f6f6f6"/>
<text x="34.5" y="486.4" font-size="6.8" fill="#4a4a4a" text-anchor="middle" font-weight="normal" stroke="#4a4a4a" stroke-width="0.12">1</text>
<text x="43.3" y="486.4" font-size="6.8" fill="#4a4a4a" text-anchor="middle" font-weight="normal" stroke="#4a4a4a" stroke-width="0.12">2</text>
<text x="51.1" y="486.4" font-size="6.8" fill="#4a4a4a" text-anchor="middle" font-weight="normal" stroke="#4a4a4a" stroke-width="0.12">3</text>
<text x="58.1" y="486.4" font-size="6.8" fill="#4a4a4a" text-anchor="middle" font-weight="normal" stroke="#4a4a4a" stroke-width="0.12">4</text>
<text x="64.7" y="486.4" font-size="6.8" fill="#4a4a4a" text-anchor="middle" font-weight="normal" stroke="#4a4a4a" stroke-width="0.12">5</text>
<text x="71.0" y="486.4" font-size="6.8" fill="#4a4a4a" text-anchor="middle" font-weight="normal" stroke="#4a4a4a" stroke-width="0.12">6</text>
<text x="76.8" y="486.4" font-size="6.8" fill="#4a4a4a" text-anchor="middle" font-weight="normal" stroke="#4a4a4a" stroke-width="0.12">7</text>
<text x="82.3" y="486.4" font-size="6.8" fill="#4a4a4a" text-anchor="middle" font-weight="normal" stroke="#4a4a4a" stroke-width="0.12">8</text>
<text x="87.4" y="486.4" font-size="6.8" fill="#4a4a4a" text-anchor="middle" font-weight="normal" stroke="#4a4a4a" stroke-width="0.12">9</text>
<text x="110.3" y="486.4" font-size="6.8" fill="#4a4a4a" text-anchor="middle" font-weight="normal" stroke="#4a4a4a" stroke-width="0.12">14</text>
<text x="123.4" y="486.4" font-size="6.8" fill="#4a4a4a" text-anchor="middle" font-weight="normal" stroke="#4a4a4a" stroke-width="0.12">18</text>
<line x1="30.1" y1="402.0" x2="30.1" y2="477.2" stroke="#e4e4e4" stroke-width="0.8"/>
<text x="60.0" y="399.9" font-size="6.4" fill="#333" text-anchor="start" font-weight="normal" stroke="#333" stroke-width="0.12" textLength="42.5" lengthAdjust="spacingAndGlyphs">Pre-venetoclax</text>
<text x="69.6" y="409.8" font-size="6.4" fill="#333" text-anchor="start" font-weight="normal" stroke="#333" stroke-width="0.12" textLength="23.3" lengthAdjust="spacingAndGlyphs">CLL9-T1</text>
<text x="26.3" y="423.4" font-size="6.8" fill="#4a4a4a" text-anchor="middle" font-weight="normal" stroke="#4a4a4a" stroke-width="0.12">2</text>
<text x="26.3" y="442.2" font-size="6.8" fill="#4a4a4a" text-anchor="middle" font-weight="normal" stroke="#4a4a4a" stroke-width="0.12">1</text>
<text x="26.3" y="460.7" font-size="6.8" fill="#4a4a4a" text-anchor="middle" font-weight="normal" stroke="#4a4a4a" stroke-width="0.12">0</text>
<text x="15.3" y="444.0" font-size="8.2" fill="#3a3a3a" text-anchor="middle" font-weight="normal" stroke="#3a3a3a" stroke-width="0.12" textLength="48.5" lengthAdjust="spacingAndGlyphs" transform="rotate(-90 15.3 441.0)">Allelic copy ratio</text>
<text x="61.0" y="497.8" font-size="7.6" fill="#333" text-anchor="start" font-weight="normal" stroke="#333" stroke-width="0.12" textLength="39.9" lengthAdjust="spacingAndGlyphs">Chromosome</text>
<line x1="30.5" y1="440.2" x2="106.4" y2="440.2" stroke="#8a8a8a" stroke-width="1.3"/>
<line x1="109.6" y1="440.2" x2="132.8" y2="440.2" stroke="#8a8a8a" stroke-width="1.3"/>
<rect x="107.30" y="439.60" width="1.20" height="1.20" fill="#a8d0e8"/>
<rect x="78.00" y="438.80" width="8.00" height="2.20" fill="#f0c090" opacity="0.5"/>
<rect x="164.65" y="402.00" width="8.74" height="75.20" fill="#f6f6f6"/>
<rect x="180.51" y="402.00" width="6.87" height="75.20" fill="#f6f6f6"/>
<rect x="193.89" y="402.00" width="6.15" height="75.20" fill="#f6f6f6"/>
<rect x="205.76" y="402.00" width="5.25" height="75.20" fill="#f6f6f6"/>
<rect x="216.08" y="402.00" width="4.89" height="75.20" fill="#f6f6f6"/>
<rect x="225.82" y="402.00" width="4.82" height="75.20" fill="#f6f6f6"/>
<rect x="234.78" y="402.00" width="3.85" height="75.20" fill="#f6f6f6"/>
<rect x="242.33" y="402.00" width="3.24" height="75.20" fill="#f6f6f6"/>
<rect x="248.48" y="402.00" width="2.80" height="75.20" fill="#f6f6f6"/>
<rect x="253.40" y="402.00" width="2.27" height="75.20" fill="#f6f6f6"/>
<rect x="257.39" y="402.00" width="1.83" height="75.20" fill="#f6f6f6"/>
<text x="160.2" y="486.4" font-size="6.8" fill="#4a4a4a" text-anchor="middle" font-weight="normal" stroke="#4a4a4a" stroke-width="0.12">1</text>
<text x="169.0" y="486.4" font-size="6.8" fill="#4a4a4a" text-anchor="middle" font-weight="normal" stroke="#4a4a4a" stroke-width="0.12">2</text>
<text x="177.0" y="486.4" font-size="6.8" fill="#4a4a4a" text-anchor="middle" font-weight="normal" stroke="#4a4a4a" stroke-width="0.12">3</text>
<text x="183.9" y="486.4" font-size="6.8" fill="#4a4a4a" text-anchor="middle" font-weight="normal" stroke="#4a4a4a" stroke-width="0.12">4</text>
<text x="190.6" y="486.4" font-size="6.8" fill="#4a4a4a" text-anchor="middle" font-weight="normal" stroke="#4a4a4a" stroke-width="0.12">5</text>
<text x="197.0" y="486.4" font-size="6.8" fill="#4a4a4a" text-anchor="middle" font-weight="normal" stroke="#4a4a4a" stroke-width="0.12">6</text>
<text x="202.9" y="486.4" font-size="6.8" fill="#4a4a4a" text-anchor="middle" font-weight="normal" stroke="#4a4a4a" stroke-width="0.12">7</text>
<text x="208.4" y="486.4" font-size="6.8" fill="#4a4a4a" text-anchor="middle" font-weight="normal" stroke="#4a4a4a" stroke-width="0.12">8</text>
<text x="213.5" y="486.4" font-size="6.8" fill="#4a4a4a" text-anchor="middle" font-weight="normal" stroke="#4a4a4a" stroke-width="0.12">9</text>
<text x="236.7" y="486.4" font-size="6.8" fill="#4a4a4a" text-anchor="middle" font-weight="normal" stroke="#4a4a4a" stroke-width="0.12">14</text>
<text x="249.9" y="486.4" font-size="6.8" fill="#4a4a4a" text-anchor="middle" font-weight="normal" stroke="#4a4a4a" stroke-width="0.12">18</text>
<line x1="155.7" y1="402.0" x2="155.7" y2="477.2" stroke="#e4e4e4" stroke-width="0.8"/>
<text x="184.3" y="399.9" font-size="6.4" fill="#333" text-anchor="start" font-weight="normal" stroke="#333" stroke-width="0.12" textLength="45.7" lengthAdjust="spacingAndGlyphs">Post-venetoclax</text>
<text x="195.1" y="409.8" font-size="6.4" fill="#333" text-anchor="start" font-weight="normal" stroke="#333" stroke-width="0.12" textLength="24.5" lengthAdjust="spacingAndGlyphs">CLL9-T3</text>
<text x="151.3" y="423.9" font-size="6.8" fill="#4a4a4a" text-anchor="middle" font-weight="normal" stroke="#4a4a4a" stroke-width="0.12">2</text>
<text x="151.3" y="442.2" font-size="6.8" fill="#4a4a4a" text-anchor="middle" font-weight="normal" stroke="#4a4a4a" stroke-width="0.12">1</text>
<text x="151.3" y="460.7" font-size="6.8" fill="#4a4a4a" text-anchor="middle" font-weight="normal" stroke="#4a4a4a" stroke-width="0.12">0</text>
<text x="143.4" y="444.0" font-size="8.2" fill="#3a3a3a" text-anchor="middle" font-weight="normal" stroke="#3a3a3a" stroke-width="0.12" textLength="48.5" lengthAdjust="spacingAndGlyphs" transform="rotate(-90 143.4 441.0)">Allelic copy ratio</text>
<text x="187.4" y="497.8" font-size="7.6" fill="#333" text-anchor="start" font-weight="normal" stroke="#333" stroke-width="0.12" textLength="40.1" lengthAdjust="spacingAndGlyphs">Chromosome</text>
<line x1="156.5" y1="440.4" x2="215.7" y2="440.4" stroke="#8a8a8a" stroke-width="1.3"/>
<line x1="215.7" y1="441.0" x2="221.1" y2="441.0" stroke="#8a8a8a" stroke-width="1.3"/>
<line x1="221.1" y1="440.4" x2="230.8" y2="440.4" stroke="#8a8a8a" stroke-width="1.3"/>
<line x1="235.1" y1="440.4" x2="238.8" y2="440.4" stroke="#8a8a8a" stroke-width="1.3"/>
<line x1="240.5" y1="440.4" x2="259.5" y2="440.4" stroke="#8a8a8a" stroke-width="1.3"/>
<line x1="232.0" y1="421.2" x2="235.0" y2="421.2" stroke="#999" stroke-width="0.8"/>
<line x1="232.0" y1="458.3" x2="235.0" y2="458.3" stroke="#999" stroke-width="0.8"/>
<rect x="198.60" y="445.00" width="1.60" height="1.20" fill="#f0a040"/>
<rect x="205.80" y="445.00" width="1.60" height="1.20" fill="#f0a040"/>
<rect x="209.20" y="433.70" width="1.60" height="1.20" fill="#f0a040"/>
<path d="M206.6,450.2 C208.4,453.5 208.6,456.0 206.6,456.0 C204.6,456.0 204.8,453.5 206.6,450.2 Z" fill="#000" stroke="none" stroke-width="0"/>
<rect x="0.00" y="0.00" width="520.00" height="1.00" fill="#505050"/>
<rect x="0.00" y="0.00" width="1.00" height="505.00" fill="#505050"/>
<rect x="519.00" y="0.00" width="1.00" height="505.00" fill="#505050"/>
<rect x="0.00" y="503.60" width="520.00" height="1.40" fill="#4a4a4a"/>
</svg></body></html>
